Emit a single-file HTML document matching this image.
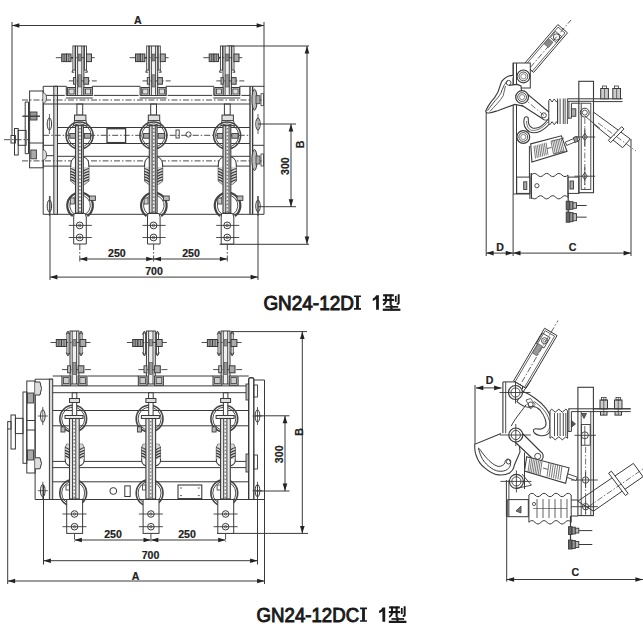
<!DOCTYPE html>
<html><head><meta charset="utf-8"><style>
html,body{margin:0;padding:0;background:#fff;width:643px;height:638px;overflow:hidden}
svg{display:block}
text{font-family:"Liberation Sans",sans-serif}
</style></head><body>
<svg width="643" height="638" viewBox="0 0 643 638">
<line x1="12.00" y1="22.00" x2="12.00" y2="135.50" stroke="#3a3a3a" stroke-width="1.0" />
<line x1="264.00" y1="22.00" x2="264.00" y2="87.00" stroke="#3a3a3a" stroke-width="1.0" />
<line x1="12.00" y1="25.50" x2="264.00" y2="25.50" stroke="#3a3a3a" stroke-width="1.0" />
<polygon points="12.00,25.50 19.40,23.20 19.40,27.80" fill="#222"/>
<polygon points="264.00,25.50 256.60,23.20 256.60,27.80" fill="#222"/>
<text x="137.9" y="24" font-size="10.6" font-weight="bold" text-anchor="middle" fill="#222" stroke="#222" stroke-width="0.2">A</text>
<line x1="227.00" y1="46.00" x2="309.00" y2="46.00" stroke="#3a3a3a" stroke-width="1.0" />
<line x1="219.60" y1="244.30" x2="309.00" y2="244.30" stroke="#3a3a3a" stroke-width="1.0" />
<line x1="307.00" y1="46.00" x2="307.00" y2="244.00" stroke="#3a3a3a" stroke-width="1.0" />
<polygon points="307.00,46.00 304.70,53.40 309.30,53.40" fill="#222"/>
<polygon points="307.00,244.00 304.70,236.60 309.30,236.60" fill="#222"/>
<text x="303.8" y="144.4" font-size="10.6" font-weight="bold" text-anchor="middle" fill="#222" stroke="#222" stroke-width="0.2" transform="rotate(-90 303.8 144.4)">B</text>
<line x1="258.00" y1="124.00" x2="296.00" y2="124.00" stroke="#3a3a3a" stroke-width="1.0" />
<line x1="258.00" y1="206.70" x2="296.00" y2="206.70" stroke="#3a3a3a" stroke-width="1.0" />
<line x1="291.00" y1="124.00" x2="291.00" y2="206.70" stroke="#3a3a3a" stroke-width="1.0" />
<polygon points="291.00,124.00 288.70,131.40 293.30,131.40" fill="#222"/>
<polygon points="291.00,206.70 288.70,199.30 293.30,199.30" fill="#222"/>
<text x="289.4" y="166.1" font-size="10.6" font-weight="bold" text-anchor="middle" fill="#222" stroke="#222" stroke-width="0.2" transform="rotate(-90 289.4 166.1)">300</text>
<line x1="79.80" y1="259.00" x2="153.60" y2="259.00" stroke="#3a3a3a" stroke-width="1.0" />
<polygon points="79.80,259.00 87.20,256.70 87.20,261.30" fill="#222"/>
<polygon points="153.60,259.00 146.20,256.70 146.20,261.30" fill="#222"/>
<text x="116.9" y="257.1" font-size="10.6" font-weight="bold" text-anchor="middle" fill="#222" stroke="#222" stroke-width="0.2">250</text>
<line x1="153.60" y1="259.00" x2="227.30" y2="259.00" stroke="#3a3a3a" stroke-width="1.0" />
<polygon points="153.60,259.00 161.00,256.70 161.00,261.30" fill="#222"/>
<polygon points="227.30,259.00 219.90,256.70 219.90,261.30" fill="#222"/>
<text x="191" y="257.1" font-size="10.6" font-weight="bold" text-anchor="middle" fill="#222" stroke="#222" stroke-width="0.2">250</text>
<line x1="79.80" y1="244.00" x2="79.80" y2="262.00" stroke="#3a3a3a" stroke-width="0.9" stroke-dasharray="6 2 1.5 2"/>
<line x1="153.60" y1="244.00" x2="153.60" y2="262.00" stroke="#3a3a3a" stroke-width="0.9" stroke-dasharray="6 2 1.5 2"/>
<line x1="227.30" y1="244.00" x2="227.30" y2="262.00" stroke="#3a3a3a" stroke-width="0.9" stroke-dasharray="6 2 1.5 2"/>
<line x1="50.00" y1="196.00" x2="50.00" y2="280.00" stroke="#3a3a3a" stroke-width="1.0" />
<line x1="258.00" y1="196.00" x2="258.00" y2="280.00" stroke="#3a3a3a" stroke-width="1.0" />
<line x1="50.00" y1="277.10" x2="258.00" y2="277.10" stroke="#3a3a3a" stroke-width="1.0" />
<polygon points="50.00,277.10 57.40,274.80 57.40,279.40" fill="#222"/>
<polygon points="258.00,277.10 250.60,274.80 250.60,279.40" fill="#222"/>
<text x="154" y="274.8" font-size="10.6" font-weight="bold" text-anchor="middle" fill="#222" stroke="#222" stroke-width="0.2">700</text>
<line x1="43.20" y1="86.30" x2="43.20" y2="214.30" stroke="#3a3a3a" stroke-width="1.0" />
<line x1="43.20" y1="214.30" x2="264.00" y2="214.30" stroke="#3a3a3a" stroke-width="1.0" />
<line x1="264.00" y1="86.50" x2="264.00" y2="214.30" stroke="#3a3a3a" stroke-width="1.0" />
<rect x="53.80" y="86.30" width="3.70" height="128.00" stroke="#3a3a3a" stroke-width="1.0" fill="#d8d8d8" />
<line x1="250.00" y1="86.50" x2="250.00" y2="214.30" stroke="#3a3a3a" stroke-width="1.4" />
<line x1="252.60" y1="86.50" x2="252.60" y2="214.30" stroke="#3a3a3a" stroke-width="1.4" />
<line x1="252.60" y1="145.30" x2="264.00" y2="145.30" stroke="#3a3a3a" stroke-width="1.0" />
<line x1="43.20" y1="86.30" x2="66.30" y2="86.30" stroke="#3a3a3a" stroke-width="1.0" />
<line x1="66.30" y1="86.30" x2="66.30" y2="95.50" stroke="#3a3a3a" stroke-width="1.0" />
<line x1="92.30" y1="86.30" x2="92.30" y2="95.50" stroke="#3a3a3a" stroke-width="1.0" />
<line x1="66.30" y1="95.50" x2="92.30" y2="95.50" stroke="#3a3a3a" stroke-width="1.0" />
<line x1="65.80" y1="98.00" x2="92.80" y2="98.00" stroke="#3a3a3a" stroke-width="1.0" />
<line x1="92.30" y1="86.30" x2="140.10" y2="86.30" stroke="#3a3a3a" stroke-width="1.0" />
<line x1="93.80" y1="95.40" x2="138.60" y2="95.40" stroke="#3a3a3a" stroke-width="1.0" />
<line x1="140.10" y1="86.30" x2="140.10" y2="95.50" stroke="#3a3a3a" stroke-width="1.0" />
<line x1="166.10" y1="86.30" x2="166.10" y2="95.50" stroke="#3a3a3a" stroke-width="1.0" />
<line x1="140.10" y1="95.50" x2="166.10" y2="95.50" stroke="#3a3a3a" stroke-width="1.0" />
<line x1="139.60" y1="98.00" x2="166.60" y2="98.00" stroke="#3a3a3a" stroke-width="1.0" />
<line x1="166.10" y1="86.30" x2="213.80" y2="86.30" stroke="#3a3a3a" stroke-width="1.0" />
<line x1="167.60" y1="95.40" x2="212.30" y2="95.40" stroke="#3a3a3a" stroke-width="1.0" />
<line x1="213.80" y1="86.30" x2="213.80" y2="95.50" stroke="#3a3a3a" stroke-width="1.0" />
<line x1="239.80" y1="86.30" x2="239.80" y2="95.50" stroke="#3a3a3a" stroke-width="1.0" />
<line x1="213.80" y1="95.50" x2="239.80" y2="95.50" stroke="#3a3a3a" stroke-width="1.0" />
<line x1="213.30" y1="98.00" x2="240.30" y2="98.00" stroke="#3a3a3a" stroke-width="1.0" />
<line x1="239.80" y1="86.30" x2="264.00" y2="86.30" stroke="#3a3a3a" stroke-width="1.0" />
<line x1="43.20" y1="95.40" x2="64.80" y2="95.40" stroke="#3a3a3a" stroke-width="1.0" />
<line x1="241.30" y1="95.40" x2="250.00" y2="95.40" stroke="#3a3a3a" stroke-width="1.0" />
<line x1="22.00" y1="100.00" x2="264.00" y2="100.00" stroke="#3a3a3a" stroke-width="0.9" stroke-dasharray="6 2 1.5 2"/>
<line x1="43.20" y1="104.00" x2="250.00" y2="104.00" stroke="#3a3a3a" stroke-width="1.0" />
<line x1="57.50" y1="127.50" x2="250.00" y2="127.50" stroke="#3a3a3a" stroke-width="1.0" />
<line x1="57.50" y1="143.50" x2="250.00" y2="143.50" stroke="#3a3a3a" stroke-width="1.0" />
<line x1="43.20" y1="135.30" x2="250.00" y2="135.30" stroke="#3a3a3a" stroke-width="0.9" stroke-dasharray="6 2 1.5 2"/>
<line x1="57.50" y1="156.30" x2="250.00" y2="156.30" stroke="#3a3a3a" stroke-width="1.0" />
<line x1="43.20" y1="166.10" x2="250.00" y2="166.10" stroke="#3a3a3a" stroke-width="1.0" />
<line x1="22.00" y1="160.90" x2="264.00" y2="160.90" stroke="#3a3a3a" stroke-width="0.9" stroke-dasharray="6 2 1.5 2"/>
<rect x="107.00" y="128.70" width="18.60" height="13.90" stroke="#3a3a3a" stroke-width="1.3" fill="none" />
<rect x="176.00" y="130.00" width="3.20" height="8.00" stroke="#3a3a3a" stroke-width="0.9" fill="none" />
<circle cx="188.50" cy="134.50" r="2.60" stroke="#3a3a3a" stroke-width="0.9" fill="none"/>
<rect x="29.60" y="91.00" width="13.60" height="76.80" stroke="#3a3a3a" stroke-width="1.0" fill="none" />
<line x1="25.20" y1="102.00" x2="25.20" y2="153.70" stroke="#3a3a3a" stroke-width="1.0" />
<line x1="28.50" y1="102.00" x2="28.50" y2="153.70" stroke="#3a3a3a" stroke-width="1.0" />
<line x1="25.20" y1="102.00" x2="28.50" y2="102.00" stroke="#3a3a3a" stroke-width="1.0" />
<line x1="25.20" y1="153.70" x2="28.50" y2="153.70" stroke="#3a3a3a" stroke-width="1.0" />
<rect x="14.50" y="128.50" width="3.70" height="26.50" stroke="#3a3a3a" stroke-width="1.0" fill="none" />
<rect x="18.20" y="130.40" width="7.90" height="14.90" stroke="#3a3a3a" stroke-width="1.0" fill="none" />
<rect x="11.00" y="135.50" width="4.40" height="7.50" stroke="#3a3a3a" stroke-width="1.0" fill="none" />
<line x1="4.00" y1="139.70" x2="30.00" y2="139.70" stroke="#3a3a3a" stroke-width="0.9" stroke-dasharray="6 2 1.5 2"/>
<line x1="28.50" y1="143.00" x2="43.20" y2="143.00" stroke="#3a3a3a" stroke-width="1.0" />
<line x1="43.20" y1="145.30" x2="53.80" y2="145.30" stroke="#3a3a3a" stroke-width="1.0" />
<line x1="43.20" y1="155.70" x2="53.80" y2="155.70" stroke="#3a3a3a" stroke-width="1.0" />
<rect x="30.00" y="112.00" width="7.00" height="8.00" stroke="#3a3a3a" stroke-width="0.9" fill="#999" />
<line x1="22.40" y1="116.20" x2="40.00" y2="116.20" stroke="#3a3a3a" stroke-width="1.4" />
<rect x="30.80" y="150.00" width="5.60" height="8.80" stroke="#3a3a3a" stroke-width="0.9" fill="#aaa" />
<path d="M43.2,93 Q46.5,93 46.5,98 Q46.5,103 43.2,103" stroke="#3a3a3a" stroke-width="0.8" fill="#ddd" />
<path d="M43.2,150 Q46.5,150 46.5,155 Q46.5,160 43.2,160" stroke="#3a3a3a" stroke-width="0.8" fill="#ddd" />
<ellipse cx="49.4" cy="124" rx="2.2" ry="6" stroke="#3a3a3a" stroke-width="1" fill="none"/>
<line x1="49.40" y1="114.00" x2="49.40" y2="134.00" stroke="#3a3a3a" stroke-width="0.8" />
<ellipse cx="49.4" cy="206" rx="2.2" ry="6" stroke="#3a3a3a" stroke-width="1" fill="none"/>
<line x1="49.40" y1="196.00" x2="49.40" y2="216.00" stroke="#3a3a3a" stroke-width="0.8" />
<ellipse cx="258" cy="124" rx="2.2" ry="6" stroke="#3a3a3a" stroke-width="1" fill="none"/>
<line x1="258.00" y1="114.00" x2="258.00" y2="134.00" stroke="#3a3a3a" stroke-width="0.8" />
<ellipse cx="258" cy="206" rx="2.2" ry="6" stroke="#3a3a3a" stroke-width="1" fill="none"/>
<line x1="258.00" y1="196.00" x2="258.00" y2="216.00" stroke="#3a3a3a" stroke-width="0.8" />
<ellipse cx="254.5" cy="99.7" rx="2.6" ry="10.5" stroke="#3a3a3a" stroke-width="1" fill="#bbb"/>
<rect x="256.00" y="95.70" width="4.00" height="8.00" stroke="#3a3a3a" stroke-width="0.8" fill="#aaa" />
<rect x="261.00" y="93.70" width="2.50" height="12.00" stroke="#3a3a3a" stroke-width="0.8" fill="none" />
<ellipse cx="254.5" cy="160" rx="2.6" ry="10.5" stroke="#3a3a3a" stroke-width="1" fill="#bbb"/>
<rect x="256.00" y="156.00" width="4.00" height="8.00" stroke="#3a3a3a" stroke-width="0.8" fill="#aaa" />
<rect x="261.00" y="154.00" width="2.50" height="12.00" stroke="#3a3a3a" stroke-width="0.8" fill="none" />
<rect x="72.90" y="46.00" width="2.10" height="24.00" stroke="#3a3a3a" stroke-width="0.9" fill="none" />
<rect x="84.40" y="46.00" width="2.10" height="24.00" stroke="#3a3a3a" stroke-width="0.9" fill="none" />
<path d="M72.89999999999999,70 l-1,2.2 l2.4,0" stroke="#3a3a3a" stroke-width="1.0" fill="none" />
<path d="M86.5,70 l1,2.2 l-2.4,0" stroke="#3a3a3a" stroke-width="1.0" fill="none" />
<rect x="75.50" y="46.00" width="8.40" height="49.50" stroke="#3a3a3a" stroke-width="1.0" fill="#f0f0f0" />
<line x1="77.60" y1="46.00" x2="77.60" y2="95.50" stroke="#3a3a3a" stroke-width="0.9" />
<line x1="81.80" y1="46.00" x2="81.80" y2="95.50" stroke="#3a3a3a" stroke-width="0.9" />
<line x1="55.80" y1="57.70" x2="94.80" y2="57.70" stroke="#3a3a3a" stroke-width="0.9" stroke-dasharray="6 2 1.5 2"/>
<rect x="61.70" y="54.00" width="4.80" height="7.60" stroke="#3a3a3a" stroke-width="1.0" fill="#999" />
<line x1="64.10" y1="54.00" x2="64.10" y2="61.60" stroke="#3a3a3a" stroke-width="0.7" />
<rect x="66.50" y="54.00" width="4.50" height="7.60" stroke="#3a3a3a" stroke-width="1.0" fill="#aaa" />
<line x1="68.80" y1="54.00" x2="68.80" y2="61.60" stroke="#3a3a3a" stroke-width="0.7" />
<line x1="71.00" y1="57.70" x2="72.90" y2="57.70" stroke="#3a3a3a" stroke-width="1.6" />
<rect x="86.50" y="54.00" width="5.00" height="7.60" stroke="#3a3a3a" stroke-width="1.0" fill="#aaa" />
<rect x="78.20" y="54.00" width="3.20" height="7.00" stroke="#3a3a3a" stroke-width="0.5" fill="#888" />
<line x1="68.80" y1="80.90" x2="96.80" y2="80.90" stroke="#3a3a3a" stroke-width="0.9" stroke-dasharray="6 2 1.5 2"/>
<rect x="73.50" y="77.60" width="2.30" height="6.60" stroke="#3a3a3a" stroke-width="0.9" fill="#bbb" />
<rect x="83.90" y="77.60" width="4.70" height="6.60" stroke="#3a3a3a" stroke-width="1.0" fill="#aaa" />
<rect x="78.20" y="74.80" width="3.20" height="12.20" stroke="#3a3a3a" stroke-width="0.5" fill="#999" />
<rect x="67.40" y="87.50" width="8.20" height="8.00" stroke="#3a3a3a" stroke-width="1.0" fill="#ddd" />
<rect x="68.90" y="89.00" width="5.20" height="5.00" stroke="#3a3a3a" stroke-width="0.8" fill="none" />
<rect x="83.90" y="87.50" width="8.20" height="8.00" stroke="#3a3a3a" stroke-width="1.0" fill="#ddd" />
<rect x="85.40" y="89.00" width="5.20" height="5.00" stroke="#3a3a3a" stroke-width="0.8" fill="none" />
<rect x="76.90" y="104.00" width="5.80" height="11.10" stroke="#3a3a3a" stroke-width="1.0" fill="none" />
<rect x="74.50" y="115.10" width="11.40" height="5.50" stroke="#3a3a3a" stroke-width="1.0" fill="#e0e0e0" />
<path d="M74.5,120.6 L73.3,125.7 L87.5,125.7 L85.89999999999999,120.6" stroke="#3a3a3a" stroke-width="0.9" fill="none" />
<circle cx="79.60" cy="135.50" r="13.50" stroke="#444" stroke-width="1.6" fill="none"/>
<circle cx="79.60" cy="135.50" r="11.60" stroke="#3a3a3a" stroke-width="0.9" fill="none"/>
<rect x="69.80" y="133.50" width="5.90" height="4.70" stroke="#3a3a3a" stroke-width="0.9" fill="#aaa" />
<rect x="84.30" y="133.50" width="6.30" height="4.70" stroke="#3a3a3a" stroke-width="0.9" fill="#aaa" />
<path d="M70.8,180.7 L70.8,164.4 C70.8,159 74.8,156.3 79.8,156.3 C84.8,156.3 88.8,159 88.8,164.4 L88.8,180.7 L85.0,184 L74.6,184 Z" stroke="#3a3a3a" stroke-width="1.1" fill="#fff" />
<path d="M70.8,167 L70.8,180.7 L74.6,184 L85.0,184 L88.8,180.7 L88.8,167 Z" fill="#d8d8d8" stroke="none"/>
<path d="M70.6,168.5 Q73.3,169.1 75.5,170.9" stroke="#333" stroke-width="1.2" fill="none" />
<path d="M89.0,168.5 Q86.3,169.1 83.3,170.9" stroke="#333" stroke-width="1.2" fill="none" />
<path d="M70.6,171.3 Q73.3,171.9 75.5,173.70000000000002" stroke="#333" stroke-width="1.2" fill="none" />
<path d="M89.0,171.3 Q86.3,171.9 83.3,173.70000000000002" stroke="#333" stroke-width="1.2" fill="none" />
<path d="M70.6,174.1 Q73.3,174.7 75.5,176.5" stroke="#333" stroke-width="1.2" fill="none" />
<path d="M89.0,174.1 Q86.3,174.7 83.3,176.5" stroke="#333" stroke-width="1.2" fill="none" />
<path d="M70.6,176.9 Q73.3,177.5 75.5,179.3" stroke="#333" stroke-width="1.2" fill="none" />
<path d="M89.0,176.9 Q86.3,177.5 83.3,179.3" stroke="#333" stroke-width="1.2" fill="none" />
<path d="M70.6,179.7 Q73.3,180.29999999999998 75.5,182.1" stroke="#333" stroke-width="1.2" fill="none" />
<path d="M89.0,179.7 Q86.3,180.29999999999998 83.3,182.1" stroke="#333" stroke-width="1.2" fill="none" />
<path d="M72.8,216 A12.8 12.8 0 1 1 87.3,216" stroke="#444" stroke-width="2.2" fill="none" />
<path d="M74.3,214 A10.3 10.3 0 1 1 85.8,214" stroke="#3a3a3a" stroke-width="0.9" fill="none" />
<rect x="89.60" y="196.00" width="5.80" height="4.40" stroke="#3a3a3a" stroke-width="0.9" fill="#bbb" />
<rect x="70.30" y="198.00" width="4.00" height="6.00" stroke="#3a3a3a" stroke-width="0.8" fill="#ccc" />
<rect x="75.50" y="125.70" width="7.80" height="87.30" stroke="#3a3a3a" stroke-width="1.1" fill="#d4d4d4" />
<rect x="78.30" y="125.70" width="3.20" height="87.30" stroke="#3a3a3a" stroke-width="1.0" fill="#f4f4f4" />
<rect x="79.10" y="128.00" width="1.60" height="1.40" stroke="#3a3a3a" stroke-width="0" fill="#777" />
<rect x="79.10" y="131.60" width="1.60" height="1.40" stroke="#3a3a3a" stroke-width="0" fill="#777" />
<rect x="79.10" y="135.20" width="1.60" height="1.40" stroke="#3a3a3a" stroke-width="0" fill="#777" />
<rect x="79.10" y="138.80" width="1.60" height="1.40" stroke="#3a3a3a" stroke-width="0" fill="#777" />
<rect x="79.10" y="142.40" width="1.60" height="1.40" stroke="#3a3a3a" stroke-width="0" fill="#777" />
<rect x="79.10" y="146.00" width="1.60" height="1.40" stroke="#3a3a3a" stroke-width="0" fill="#777" />
<rect x="79.10" y="149.60" width="1.60" height="1.40" stroke="#3a3a3a" stroke-width="0" fill="#777" />
<rect x="79.10" y="153.20" width="1.60" height="1.40" stroke="#3a3a3a" stroke-width="0" fill="#777" />
<rect x="79.10" y="156.80" width="1.60" height="1.40" stroke="#3a3a3a" stroke-width="0" fill="#777" />
<rect x="79.10" y="160.40" width="1.60" height="1.40" stroke="#3a3a3a" stroke-width="0" fill="#777" />
<rect x="79.10" y="164.00" width="1.60" height="1.40" stroke="#3a3a3a" stroke-width="0" fill="#777" />
<rect x="79.10" y="167.60" width="1.60" height="1.40" stroke="#3a3a3a" stroke-width="0" fill="#777" />
<rect x="79.10" y="171.20" width="1.60" height="1.40" stroke="#3a3a3a" stroke-width="0" fill="#777" />
<rect x="79.10" y="174.80" width="1.60" height="1.40" stroke="#3a3a3a" stroke-width="0" fill="#777" />
<rect x="79.10" y="178.40" width="1.60" height="1.40" stroke="#3a3a3a" stroke-width="0" fill="#777" />
<rect x="79.10" y="182.00" width="1.60" height="1.40" stroke="#3a3a3a" stroke-width="0" fill="#777" />
<rect x="79.10" y="185.60" width="1.60" height="1.40" stroke="#3a3a3a" stroke-width="0" fill="#777" />
<rect x="79.10" y="189.20" width="1.60" height="1.40" stroke="#3a3a3a" stroke-width="0" fill="#777" />
<rect x="79.10" y="192.80" width="1.60" height="1.40" stroke="#3a3a3a" stroke-width="0" fill="#777" />
<rect x="79.10" y="196.40" width="1.60" height="1.40" stroke="#3a3a3a" stroke-width="0" fill="#777" />
<rect x="79.10" y="200.00" width="1.60" height="1.40" stroke="#3a3a3a" stroke-width="0" fill="#777" />
<rect x="79.10" y="203.60" width="1.60" height="1.40" stroke="#3a3a3a" stroke-width="0" fill="#777" />
<rect x="79.10" y="207.20" width="1.60" height="1.40" stroke="#3a3a3a" stroke-width="0" fill="#777" />
<rect x="79.10" y="210.80" width="1.60" height="1.40" stroke="#3a3a3a" stroke-width="0" fill="#777" />
<path d="M74.2,213.5 L85.2,213.5 L86.3,217 L86.3,244 L73.7,244 L73.7,217 Z" stroke="#3a3a3a" stroke-width="1.0" fill="#fff" />
<circle cx="79.70" cy="225.40" r="3.40" stroke="#3a3a3a" stroke-width="1.0" fill="none"/>
<circle cx="79.70" cy="237.50" r="3.40" stroke="#3a3a3a" stroke-width="1.0" fill="none"/>
<circle cx="79.70" cy="225.40" r="1.30" stroke="#3a3a3a" stroke-width="0.7" fill="none"/>
<circle cx="79.70" cy="237.50" r="1.30" stroke="#3a3a3a" stroke-width="0.7" fill="none"/>
<line x1="68.70" y1="225.40" x2="91.80" y2="225.40" stroke="#3a3a3a" stroke-width="0.9" />
<line x1="68.70" y1="237.50" x2="91.80" y2="237.50" stroke="#3a3a3a" stroke-width="0.9" />
<rect x="146.70" y="46.00" width="2.10" height="24.00" stroke="#3a3a3a" stroke-width="0.9" fill="none" />
<rect x="158.20" y="46.00" width="2.10" height="24.00" stroke="#3a3a3a" stroke-width="0.9" fill="none" />
<path d="M146.7,70 l-1,2.2 l2.4,0" stroke="#3a3a3a" stroke-width="1.0" fill="none" />
<path d="M160.29999999999998,70 l1,2.2 l-2.4,0" stroke="#3a3a3a" stroke-width="1.0" fill="none" />
<rect x="149.30" y="46.00" width="8.40" height="49.50" stroke="#3a3a3a" stroke-width="1.0" fill="#f0f0f0" />
<line x1="151.40" y1="46.00" x2="151.40" y2="95.50" stroke="#3a3a3a" stroke-width="0.9" />
<line x1="155.60" y1="46.00" x2="155.60" y2="95.50" stroke="#3a3a3a" stroke-width="0.9" />
<line x1="129.60" y1="57.70" x2="168.60" y2="57.70" stroke="#3a3a3a" stroke-width="0.9" stroke-dasharray="6 2 1.5 2"/>
<rect x="135.50" y="54.00" width="4.80" height="7.60" stroke="#3a3a3a" stroke-width="1.0" fill="#999" />
<line x1="137.90" y1="54.00" x2="137.90" y2="61.60" stroke="#3a3a3a" stroke-width="0.7" />
<rect x="140.30" y="54.00" width="4.50" height="7.60" stroke="#3a3a3a" stroke-width="1.0" fill="#aaa" />
<line x1="142.60" y1="54.00" x2="142.60" y2="61.60" stroke="#3a3a3a" stroke-width="0.7" />
<line x1="144.80" y1="57.70" x2="146.70" y2="57.70" stroke="#3a3a3a" stroke-width="1.6" />
<rect x="160.30" y="54.00" width="5.00" height="7.60" stroke="#3a3a3a" stroke-width="1.0" fill="#aaa" />
<rect x="152.00" y="54.00" width="3.20" height="7.00" stroke="#3a3a3a" stroke-width="0.5" fill="#888" />
<line x1="142.60" y1="80.90" x2="170.60" y2="80.90" stroke="#3a3a3a" stroke-width="0.9" stroke-dasharray="6 2 1.5 2"/>
<rect x="147.30" y="77.60" width="2.30" height="6.60" stroke="#3a3a3a" stroke-width="0.9" fill="#bbb" />
<rect x="157.70" y="77.60" width="4.70" height="6.60" stroke="#3a3a3a" stroke-width="1.0" fill="#aaa" />
<rect x="152.00" y="74.80" width="3.20" height="12.20" stroke="#3a3a3a" stroke-width="0.5" fill="#999" />
<rect x="141.20" y="87.50" width="8.20" height="8.00" stroke="#3a3a3a" stroke-width="1.0" fill="#ddd" />
<rect x="142.70" y="89.00" width="5.20" height="5.00" stroke="#3a3a3a" stroke-width="0.8" fill="none" />
<rect x="157.70" y="87.50" width="8.20" height="8.00" stroke="#3a3a3a" stroke-width="1.0" fill="#ddd" />
<rect x="159.20" y="89.00" width="5.20" height="5.00" stroke="#3a3a3a" stroke-width="0.8" fill="none" />
<rect x="150.70" y="104.00" width="5.80" height="11.10" stroke="#3a3a3a" stroke-width="1.0" fill="none" />
<rect x="148.30" y="115.10" width="11.40" height="5.50" stroke="#3a3a3a" stroke-width="1.0" fill="#e0e0e0" />
<path d="M148.29999999999998,120.6 L147.1,125.7 L161.29999999999998,125.7 L159.7,120.6" stroke="#3a3a3a" stroke-width="0.9" fill="none" />
<circle cx="153.40" cy="135.50" r="13.50" stroke="#444" stroke-width="1.6" fill="none"/>
<circle cx="153.40" cy="135.50" r="11.60" stroke="#3a3a3a" stroke-width="0.9" fill="none"/>
<rect x="143.60" y="133.50" width="5.90" height="4.70" stroke="#3a3a3a" stroke-width="0.9" fill="#aaa" />
<rect x="158.10" y="133.50" width="6.30" height="4.70" stroke="#3a3a3a" stroke-width="0.9" fill="#aaa" />
<path d="M144.6,180.7 L144.6,164.4 C144.6,159 148.6,156.3 153.6,156.3 C158.6,156.3 162.6,159 162.6,164.4 L162.6,180.7 L158.79999999999998,184 L148.4,184 Z" stroke="#3a3a3a" stroke-width="1.1" fill="#fff" />
<path d="M144.6,167 L144.6,180.7 L148.4,184 L158.79999999999998,184 L162.6,180.7 L162.6,167 Z" fill="#d8d8d8" stroke="none"/>
<path d="M144.4,168.5 Q147.1,169.1 149.29999999999998,170.9" stroke="#333" stroke-width="1.2" fill="none" />
<path d="M162.79999999999998,168.5 Q160.1,169.1 157.1,170.9" stroke="#333" stroke-width="1.2" fill="none" />
<path d="M144.4,171.3 Q147.1,171.9 149.29999999999998,173.70000000000002" stroke="#333" stroke-width="1.2" fill="none" />
<path d="M162.79999999999998,171.3 Q160.1,171.9 157.1,173.70000000000002" stroke="#333" stroke-width="1.2" fill="none" />
<path d="M144.4,174.1 Q147.1,174.7 149.29999999999998,176.5" stroke="#333" stroke-width="1.2" fill="none" />
<path d="M162.79999999999998,174.1 Q160.1,174.7 157.1,176.5" stroke="#333" stroke-width="1.2" fill="none" />
<path d="M144.4,176.9 Q147.1,177.5 149.29999999999998,179.3" stroke="#333" stroke-width="1.2" fill="none" />
<path d="M162.79999999999998,176.9 Q160.1,177.5 157.1,179.3" stroke="#333" stroke-width="1.2" fill="none" />
<path d="M144.4,179.7 Q147.1,180.29999999999998 149.29999999999998,182.1" stroke="#333" stroke-width="1.2" fill="none" />
<path d="M162.79999999999998,179.7 Q160.1,180.29999999999998 157.1,182.1" stroke="#333" stroke-width="1.2" fill="none" />
<path d="M146.6,216 A12.8 12.8 0 1 1 161.1,216" stroke="#444" stroke-width="2.2" fill="none" />
<path d="M148.1,214 A10.3 10.3 0 1 1 159.6,214" stroke="#3a3a3a" stroke-width="0.9" fill="none" />
<rect x="163.40" y="196.00" width="5.80" height="4.40" stroke="#3a3a3a" stroke-width="0.9" fill="#bbb" />
<rect x="144.10" y="198.00" width="4.00" height="6.00" stroke="#3a3a3a" stroke-width="0.8" fill="#ccc" />
<rect x="149.30" y="125.70" width="7.80" height="87.30" stroke="#3a3a3a" stroke-width="1.1" fill="#d4d4d4" />
<rect x="152.10" y="125.70" width="3.20" height="87.30" stroke="#3a3a3a" stroke-width="1.0" fill="#f4f4f4" />
<rect x="152.90" y="128.00" width="1.60" height="1.40" stroke="#3a3a3a" stroke-width="0" fill="#777" />
<rect x="152.90" y="131.60" width="1.60" height="1.40" stroke="#3a3a3a" stroke-width="0" fill="#777" />
<rect x="152.90" y="135.20" width="1.60" height="1.40" stroke="#3a3a3a" stroke-width="0" fill="#777" />
<rect x="152.90" y="138.80" width="1.60" height="1.40" stroke="#3a3a3a" stroke-width="0" fill="#777" />
<rect x="152.90" y="142.40" width="1.60" height="1.40" stroke="#3a3a3a" stroke-width="0" fill="#777" />
<rect x="152.90" y="146.00" width="1.60" height="1.40" stroke="#3a3a3a" stroke-width="0" fill="#777" />
<rect x="152.90" y="149.60" width="1.60" height="1.40" stroke="#3a3a3a" stroke-width="0" fill="#777" />
<rect x="152.90" y="153.20" width="1.60" height="1.40" stroke="#3a3a3a" stroke-width="0" fill="#777" />
<rect x="152.90" y="156.80" width="1.60" height="1.40" stroke="#3a3a3a" stroke-width="0" fill="#777" />
<rect x="152.90" y="160.40" width="1.60" height="1.40" stroke="#3a3a3a" stroke-width="0" fill="#777" />
<rect x="152.90" y="164.00" width="1.60" height="1.40" stroke="#3a3a3a" stroke-width="0" fill="#777" />
<rect x="152.90" y="167.60" width="1.60" height="1.40" stroke="#3a3a3a" stroke-width="0" fill="#777" />
<rect x="152.90" y="171.20" width="1.60" height="1.40" stroke="#3a3a3a" stroke-width="0" fill="#777" />
<rect x="152.90" y="174.80" width="1.60" height="1.40" stroke="#3a3a3a" stroke-width="0" fill="#777" />
<rect x="152.90" y="178.40" width="1.60" height="1.40" stroke="#3a3a3a" stroke-width="0" fill="#777" />
<rect x="152.90" y="182.00" width="1.60" height="1.40" stroke="#3a3a3a" stroke-width="0" fill="#777" />
<rect x="152.90" y="185.60" width="1.60" height="1.40" stroke="#3a3a3a" stroke-width="0" fill="#777" />
<rect x="152.90" y="189.20" width="1.60" height="1.40" stroke="#3a3a3a" stroke-width="0" fill="#777" />
<rect x="152.90" y="192.80" width="1.60" height="1.40" stroke="#3a3a3a" stroke-width="0" fill="#777" />
<rect x="152.90" y="196.40" width="1.60" height="1.40" stroke="#3a3a3a" stroke-width="0" fill="#777" />
<rect x="152.90" y="200.00" width="1.60" height="1.40" stroke="#3a3a3a" stroke-width="0" fill="#777" />
<rect x="152.90" y="203.60" width="1.60" height="1.40" stroke="#3a3a3a" stroke-width="0" fill="#777" />
<rect x="152.90" y="207.20" width="1.60" height="1.40" stroke="#3a3a3a" stroke-width="0" fill="#777" />
<rect x="152.90" y="210.80" width="1.60" height="1.40" stroke="#3a3a3a" stroke-width="0" fill="#777" />
<path d="M148.0,213.5 L159.0,213.5 L160.1,217 L160.1,244 L147.5,244 L147.5,217 Z" stroke="#3a3a3a" stroke-width="1.0" fill="#fff" />
<circle cx="153.50" cy="225.40" r="3.40" stroke="#3a3a3a" stroke-width="1.0" fill="none"/>
<circle cx="153.50" cy="237.50" r="3.40" stroke="#3a3a3a" stroke-width="1.0" fill="none"/>
<circle cx="153.50" cy="225.40" r="1.30" stroke="#3a3a3a" stroke-width="0.7" fill="none"/>
<circle cx="153.50" cy="237.50" r="1.30" stroke="#3a3a3a" stroke-width="0.7" fill="none"/>
<line x1="142.50" y1="225.40" x2="165.60" y2="225.40" stroke="#3a3a3a" stroke-width="0.9" />
<line x1="142.50" y1="237.50" x2="165.60" y2="237.50" stroke="#3a3a3a" stroke-width="0.9" />
<rect x="220.40" y="46.00" width="2.10" height="24.00" stroke="#3a3a3a" stroke-width="0.9" fill="none" />
<rect x="231.90" y="46.00" width="2.10" height="24.00" stroke="#3a3a3a" stroke-width="0.9" fill="none" />
<path d="M220.4,70 l-1,2.2 l2.4,0" stroke="#3a3a3a" stroke-width="1.0" fill="none" />
<path d="M234.0,70 l1,2.2 l-2.4,0" stroke="#3a3a3a" stroke-width="1.0" fill="none" />
<rect x="223.00" y="46.00" width="8.40" height="49.50" stroke="#3a3a3a" stroke-width="1.0" fill="#f0f0f0" />
<line x1="225.10" y1="46.00" x2="225.10" y2="95.50" stroke="#3a3a3a" stroke-width="0.9" />
<line x1="229.30" y1="46.00" x2="229.30" y2="95.50" stroke="#3a3a3a" stroke-width="0.9" />
<line x1="203.30" y1="57.70" x2="242.30" y2="57.70" stroke="#3a3a3a" stroke-width="0.9" stroke-dasharray="6 2 1.5 2"/>
<rect x="209.20" y="54.00" width="4.80" height="7.60" stroke="#3a3a3a" stroke-width="1.0" fill="#999" />
<line x1="211.60" y1="54.00" x2="211.60" y2="61.60" stroke="#3a3a3a" stroke-width="0.7" />
<rect x="214.00" y="54.00" width="4.50" height="7.60" stroke="#3a3a3a" stroke-width="1.0" fill="#aaa" />
<line x1="216.30" y1="54.00" x2="216.30" y2="61.60" stroke="#3a3a3a" stroke-width="0.7" />
<line x1="218.50" y1="57.70" x2="220.40" y2="57.70" stroke="#3a3a3a" stroke-width="1.6" />
<rect x="234.00" y="54.00" width="5.00" height="7.60" stroke="#3a3a3a" stroke-width="1.0" fill="#aaa" />
<rect x="225.70" y="54.00" width="3.20" height="7.00" stroke="#3a3a3a" stroke-width="0.5" fill="#888" />
<line x1="216.30" y1="80.90" x2="244.30" y2="80.90" stroke="#3a3a3a" stroke-width="0.9" stroke-dasharray="6 2 1.5 2"/>
<rect x="221.00" y="77.60" width="2.30" height="6.60" stroke="#3a3a3a" stroke-width="0.9" fill="#bbb" />
<rect x="231.40" y="77.60" width="4.70" height="6.60" stroke="#3a3a3a" stroke-width="1.0" fill="#aaa" />
<rect x="225.70" y="74.80" width="3.20" height="12.20" stroke="#3a3a3a" stroke-width="0.5" fill="#999" />
<rect x="214.90" y="87.50" width="8.20" height="8.00" stroke="#3a3a3a" stroke-width="1.0" fill="#ddd" />
<rect x="216.40" y="89.00" width="5.20" height="5.00" stroke="#3a3a3a" stroke-width="0.8" fill="none" />
<rect x="231.40" y="87.50" width="8.20" height="8.00" stroke="#3a3a3a" stroke-width="1.0" fill="#ddd" />
<rect x="232.90" y="89.00" width="5.20" height="5.00" stroke="#3a3a3a" stroke-width="0.8" fill="none" />
<rect x="224.40" y="104.00" width="5.80" height="11.10" stroke="#3a3a3a" stroke-width="1.0" fill="none" />
<rect x="222.00" y="115.10" width="11.40" height="5.50" stroke="#3a3a3a" stroke-width="1.0" fill="#e0e0e0" />
<path d="M222.0,120.6 L220.8,125.7 L235.0,125.7 L233.4,120.6" stroke="#3a3a3a" stroke-width="0.9" fill="none" />
<circle cx="227.10" cy="135.50" r="13.50" stroke="#444" stroke-width="1.6" fill="none"/>
<circle cx="227.10" cy="135.50" r="11.60" stroke="#3a3a3a" stroke-width="0.9" fill="none"/>
<rect x="217.30" y="133.50" width="5.90" height="4.70" stroke="#3a3a3a" stroke-width="0.9" fill="#aaa" />
<rect x="231.80" y="133.50" width="6.30" height="4.70" stroke="#3a3a3a" stroke-width="0.9" fill="#aaa" />
<path d="M218.3,180.7 L218.3,164.4 C218.3,159 222.3,156.3 227.3,156.3 C232.3,156.3 236.3,159 236.3,164.4 L236.3,180.7 L232.5,184 L222.10000000000002,184 Z" stroke="#3a3a3a" stroke-width="1.1" fill="#fff" />
<path d="M218.3,167 L218.3,180.7 L222.10000000000002,184 L232.5,184 L236.3,180.7 L236.3,167 Z" fill="#d8d8d8" stroke="none"/>
<path d="M218.10000000000002,168.5 Q220.8,169.1 223.0,170.9" stroke="#333" stroke-width="1.2" fill="none" />
<path d="M236.5,168.5 Q233.8,169.1 230.8,170.9" stroke="#333" stroke-width="1.2" fill="none" />
<path d="M218.10000000000002,171.3 Q220.8,171.9 223.0,173.70000000000002" stroke="#333" stroke-width="1.2" fill="none" />
<path d="M236.5,171.3 Q233.8,171.9 230.8,173.70000000000002" stroke="#333" stroke-width="1.2" fill="none" />
<path d="M218.10000000000002,174.1 Q220.8,174.7 223.0,176.5" stroke="#333" stroke-width="1.2" fill="none" />
<path d="M236.5,174.1 Q233.8,174.7 230.8,176.5" stroke="#333" stroke-width="1.2" fill="none" />
<path d="M218.10000000000002,176.9 Q220.8,177.5 223.0,179.3" stroke="#333" stroke-width="1.2" fill="none" />
<path d="M236.5,176.9 Q233.8,177.5 230.8,179.3" stroke="#333" stroke-width="1.2" fill="none" />
<path d="M218.10000000000002,179.7 Q220.8,180.29999999999998 223.0,182.1" stroke="#333" stroke-width="1.2" fill="none" />
<path d="M236.5,179.7 Q233.8,180.29999999999998 230.8,182.1" stroke="#333" stroke-width="1.2" fill="none" />
<path d="M220.3,216 A12.8 12.8 0 1 1 234.8,216" stroke="#444" stroke-width="2.2" fill="none" />
<path d="M221.8,214 A10.3 10.3 0 1 1 233.3,214" stroke="#3a3a3a" stroke-width="0.9" fill="none" />
<rect x="237.10" y="196.00" width="5.80" height="4.40" stroke="#3a3a3a" stroke-width="0.9" fill="#bbb" />
<rect x="217.80" y="198.00" width="4.00" height="6.00" stroke="#3a3a3a" stroke-width="0.8" fill="#ccc" />
<rect x="223.00" y="125.70" width="7.80" height="87.30" stroke="#3a3a3a" stroke-width="1.1" fill="#d4d4d4" />
<rect x="225.80" y="125.70" width="3.20" height="87.30" stroke="#3a3a3a" stroke-width="1.0" fill="#f4f4f4" />
<rect x="226.60" y="128.00" width="1.60" height="1.40" stroke="#3a3a3a" stroke-width="0" fill="#777" />
<rect x="226.60" y="131.60" width="1.60" height="1.40" stroke="#3a3a3a" stroke-width="0" fill="#777" />
<rect x="226.60" y="135.20" width="1.60" height="1.40" stroke="#3a3a3a" stroke-width="0" fill="#777" />
<rect x="226.60" y="138.80" width="1.60" height="1.40" stroke="#3a3a3a" stroke-width="0" fill="#777" />
<rect x="226.60" y="142.40" width="1.60" height="1.40" stroke="#3a3a3a" stroke-width="0" fill="#777" />
<rect x="226.60" y="146.00" width="1.60" height="1.40" stroke="#3a3a3a" stroke-width="0" fill="#777" />
<rect x="226.60" y="149.60" width="1.60" height="1.40" stroke="#3a3a3a" stroke-width="0" fill="#777" />
<rect x="226.60" y="153.20" width="1.60" height="1.40" stroke="#3a3a3a" stroke-width="0" fill="#777" />
<rect x="226.60" y="156.80" width="1.60" height="1.40" stroke="#3a3a3a" stroke-width="0" fill="#777" />
<rect x="226.60" y="160.40" width="1.60" height="1.40" stroke="#3a3a3a" stroke-width="0" fill="#777" />
<rect x="226.60" y="164.00" width="1.60" height="1.40" stroke="#3a3a3a" stroke-width="0" fill="#777" />
<rect x="226.60" y="167.60" width="1.60" height="1.40" stroke="#3a3a3a" stroke-width="0" fill="#777" />
<rect x="226.60" y="171.20" width="1.60" height="1.40" stroke="#3a3a3a" stroke-width="0" fill="#777" />
<rect x="226.60" y="174.80" width="1.60" height="1.40" stroke="#3a3a3a" stroke-width="0" fill="#777" />
<rect x="226.60" y="178.40" width="1.60" height="1.40" stroke="#3a3a3a" stroke-width="0" fill="#777" />
<rect x="226.60" y="182.00" width="1.60" height="1.40" stroke="#3a3a3a" stroke-width="0" fill="#777" />
<rect x="226.60" y="185.60" width="1.60" height="1.40" stroke="#3a3a3a" stroke-width="0" fill="#777" />
<rect x="226.60" y="189.20" width="1.60" height="1.40" stroke="#3a3a3a" stroke-width="0" fill="#777" />
<rect x="226.60" y="192.80" width="1.60" height="1.40" stroke="#3a3a3a" stroke-width="0" fill="#777" />
<rect x="226.60" y="196.40" width="1.60" height="1.40" stroke="#3a3a3a" stroke-width="0" fill="#777" />
<rect x="226.60" y="200.00" width="1.60" height="1.40" stroke="#3a3a3a" stroke-width="0" fill="#777" />
<rect x="226.60" y="203.60" width="1.60" height="1.40" stroke="#3a3a3a" stroke-width="0" fill="#777" />
<rect x="226.60" y="207.20" width="1.60" height="1.40" stroke="#3a3a3a" stroke-width="0" fill="#777" />
<rect x="226.60" y="210.80" width="1.60" height="1.40" stroke="#3a3a3a" stroke-width="0" fill="#777" />
<path d="M221.70000000000002,213.5 L232.70000000000002,213.5 L233.8,217 L233.8,244 L221.20000000000002,244 L221.20000000000002,217 Z" stroke="#3a3a3a" stroke-width="1.0" fill="#fff" />
<circle cx="227.20" cy="225.40" r="3.40" stroke="#3a3a3a" stroke-width="1.0" fill="none"/>
<circle cx="227.20" cy="237.50" r="3.40" stroke="#3a3a3a" stroke-width="1.0" fill="none"/>
<circle cx="227.20" cy="225.40" r="1.30" stroke="#3a3a3a" stroke-width="0.7" fill="none"/>
<circle cx="227.20" cy="237.50" r="1.30" stroke="#3a3a3a" stroke-width="0.7" fill="none"/>
<line x1="216.20" y1="225.40" x2="239.30" y2="225.40" stroke="#3a3a3a" stroke-width="0.9" />
<line x1="216.20" y1="237.50" x2="239.30" y2="237.50" stroke="#3a3a3a" stroke-width="0.9" />
<line x1="7.70" y1="429.00" x2="7.70" y2="584.00" stroke="#3a3a3a" stroke-width="1.0" />
<line x1="264.50" y1="380.00" x2="264.50" y2="584.00" stroke="#3a3a3a" stroke-width="1.0" />
<line x1="7.70" y1="581.00" x2="264.50" y2="581.00" stroke="#3a3a3a" stroke-width="1.0" />
<polygon points="7.70,581.00 15.10,578.70 15.10,583.30" fill="#222"/>
<polygon points="264.50,581.00 257.10,578.70 257.10,583.30" fill="#222"/>
<text x="135.6" y="579.5" font-size="10.6" font-weight="bold" text-anchor="middle" fill="#222" stroke="#222" stroke-width="0.2">A</text>
<line x1="43.50" y1="485.00" x2="43.50" y2="564.50" stroke="#3a3a3a" stroke-width="1.0" />
<line x1="257.50" y1="485.00" x2="257.50" y2="564.50" stroke="#3a3a3a" stroke-width="1.0" />
<line x1="43.50" y1="560.70" x2="257.50" y2="560.70" stroke="#3a3a3a" stroke-width="1.0" />
<polygon points="43.50,560.70 50.90,558.40 50.90,563.00" fill="#222"/>
<polygon points="257.50,560.70 250.10,558.40 250.10,563.00" fill="#222"/>
<text x="150.5" y="558.5" font-size="10.6" font-weight="bold" text-anchor="middle" fill="#222" stroke="#222" stroke-width="0.2">700</text>
<line x1="74.50" y1="540.00" x2="150.90" y2="540.00" stroke="#3a3a3a" stroke-width="1.0" />
<polygon points="74.50,540.00 81.90,537.70 81.90,542.30" fill="#222"/>
<polygon points="150.90,540.00 143.50,537.70 143.50,542.30" fill="#222"/>
<text x="113" y="537.5" font-size="10.6" font-weight="bold" text-anchor="middle" fill="#222" stroke="#222" stroke-width="0.2">250</text>
<line x1="150.90" y1="540.00" x2="225.60" y2="540.00" stroke="#3a3a3a" stroke-width="1.0" />
<polygon points="150.90,540.00 158.30,537.70 158.30,542.30" fill="#222"/>
<polygon points="225.60,540.00 218.20,537.70 218.20,542.30" fill="#222"/>
<text x="187" y="537.5" font-size="10.6" font-weight="bold" text-anchor="middle" fill="#222" stroke="#222" stroke-width="0.2">250</text>
<line x1="74.50" y1="533.40" x2="74.50" y2="542.00" stroke="#3a3a3a" stroke-width="0.9" stroke-dasharray="6 2 1.5 2"/>
<line x1="150.90" y1="533.40" x2="150.90" y2="542.00" stroke="#3a3a3a" stroke-width="0.9" stroke-dasharray="6 2 1.5 2"/>
<line x1="225.60" y1="533.40" x2="225.60" y2="542.00" stroke="#3a3a3a" stroke-width="0.9" stroke-dasharray="6 2 1.5 2"/>
<line x1="230.80" y1="331.60" x2="307.00" y2="331.60" stroke="#3a3a3a" stroke-width="1.0" />
<line x1="217.00" y1="533.40" x2="308.00" y2="533.40" stroke="#3a3a3a" stroke-width="1.0" />
<line x1="302.30" y1="331.60" x2="302.30" y2="533.40" stroke="#3a3a3a" stroke-width="1.0" />
<polygon points="302.30,331.60 300.00,339.00 304.60,339.00" fill="#222"/>
<polygon points="302.30,533.40 300.00,526.00 304.60,526.00" fill="#222"/>
<text x="303" y="432" font-size="10.6" font-weight="bold" text-anchor="middle" fill="#222" stroke="#222" stroke-width="0.2" transform="rotate(-90 303 432)">B</text>
<line x1="256.00" y1="415.80" x2="289.50" y2="415.80" stroke="#3a3a3a" stroke-width="1.0" />
<line x1="256.00" y1="491.00" x2="289.50" y2="491.00" stroke="#3a3a3a" stroke-width="1.0" />
<line x1="285.00" y1="415.80" x2="285.00" y2="491.00" stroke="#3a3a3a" stroke-width="1.0" />
<polygon points="285.00,415.80 282.70,423.20 287.30,423.20" fill="#222"/>
<polygon points="285.00,491.00 282.70,483.60 287.30,483.60" fill="#222"/>
<text x="283.1" y="454.3" font-size="10.6" font-weight="bold" text-anchor="middle" fill="#222" stroke="#222" stroke-width="0.2" transform="rotate(-90 283.1 454.3)">300</text>
<line x1="35.10" y1="379.20" x2="35.10" y2="499.50" stroke="#3a3a3a" stroke-width="1.0" />
<line x1="35.10" y1="379.20" x2="52.70" y2="379.20" stroke="#3a3a3a" stroke-width="1.0" />
<rect x="49.40" y="379.20" width="3.30" height="120.30" stroke="#3a3a3a" stroke-width="1.0" fill="#d8d8d8" />
<line x1="35.10" y1="499.50" x2="264.50" y2="499.50" stroke="#3a3a3a" stroke-width="1.0" />
<path d="M248.7,499.5 L248.7,379.5 Q248.7,377.7 250.5,377.7 L252,377.7 Q253.8,377.7 253.8,379.5 L253.8,499.5" stroke="#3a3a3a" stroke-width="1.4" fill="none" />
<line x1="253.80" y1="380.00" x2="264.50" y2="380.00" stroke="#3a3a3a" stroke-width="1.0" />
<line x1="87.70" y1="376.00" x2="138.30" y2="376.00" stroke="#3a3a3a" stroke-width="1.0" />
<line x1="164.10" y1="376.00" x2="213.00" y2="376.00" stroke="#3a3a3a" stroke-width="1.0" />
<line x1="238.80" y1="376.00" x2="248.70" y2="376.00" stroke="#3a3a3a" stroke-width="1.0" />
<line x1="52.70" y1="376.00" x2="61.90" y2="376.00" stroke="#3a3a3a" stroke-width="1.0" />
<line x1="52.70" y1="385.90" x2="248.70" y2="385.90" stroke="#3a3a3a" stroke-width="1.0" />
<line x1="52.70" y1="392.70" x2="248.70" y2="392.70" stroke="#3a3a3a" stroke-width="1.0" />
<line x1="52.70" y1="410.50" x2="248.70" y2="410.50" stroke="#3a3a3a" stroke-width="1.0" />
<line x1="52.70" y1="425.80" x2="248.70" y2="425.80" stroke="#3a3a3a" stroke-width="1.0" />
<line x1="52.70" y1="461.40" x2="248.70" y2="461.40" stroke="#3a3a3a" stroke-width="1.0" />
<line x1="52.70" y1="467.60" x2="248.70" y2="467.60" stroke="#3a3a3a" stroke-width="1.0" />
<line x1="52.70" y1="481.80" x2="248.70" y2="481.80" stroke="#3a3a3a" stroke-width="1.0" />
<rect x="26.80" y="381.00" width="8.30" height="92.00" stroke="#3a3a3a" stroke-width="1.0" fill="none" />
<rect x="23.00" y="392.00" width="3.80" height="71.30" stroke="#3a3a3a" stroke-width="1.0" fill="none" />
<line x1="26.80" y1="420.50" x2="35.10" y2="420.50" stroke="#3a3a3a" stroke-width="1.0" />
<line x1="26.80" y1="430.00" x2="35.10" y2="430.00" stroke="#3a3a3a" stroke-width="1.0" />
<rect x="11.00" y="415.00" width="4.40" height="34.00" stroke="#3a3a3a" stroke-width="1.0" fill="none" />
<rect x="15.40" y="418.30" width="7.60" height="15.30" stroke="#3a3a3a" stroke-width="1.0" fill="none" />
<rect x="7.70" y="421.60" width="3.30" height="7.40" stroke="#3a3a3a" stroke-width="1.0" fill="none" />
<path d="M35.1,382 L40,382 Q43,388.5 40,395 L35.1,395" stroke="#3a3a3a" stroke-width="1.0" fill="#ddd" />
<path d="M35.1,457.8 L40,457.8 Q43,463.3 40,468.8 L35.1,468.8" stroke="#3a3a3a" stroke-width="1.0" fill="#ddd" />
<rect x="27.50" y="393.00" width="6.00" height="10.00" stroke="#3a3a3a" stroke-width="0.9" fill="#aaa" />
<rect x="27.50" y="450.00" width="6.00" height="10.00" stroke="#3a3a3a" stroke-width="0.9" fill="#aaa" />
<ellipse cx="42.8" cy="416" rx="2.3" ry="6.2" stroke="#3a3a3a" stroke-width="1" fill="none"/>
<line x1="37.80" y1="416.00" x2="47.80" y2="416.00" stroke="#3a3a3a" stroke-width="0.8" />
<line x1="42.80" y1="407.00" x2="42.80" y2="425.00" stroke="#3a3a3a" stroke-width="0.8" />
<ellipse cx="42.8" cy="490.7" rx="2.3" ry="6.2" stroke="#3a3a3a" stroke-width="1" fill="none"/>
<line x1="37.80" y1="490.70" x2="47.80" y2="490.70" stroke="#3a3a3a" stroke-width="0.8" />
<line x1="42.80" y1="481.70" x2="42.80" y2="499.70" stroke="#3a3a3a" stroke-width="0.8" />
<ellipse cx="257.5" cy="416" rx="2.3" ry="6.2" stroke="#3a3a3a" stroke-width="1" fill="none"/>
<line x1="252.50" y1="416.00" x2="262.50" y2="416.00" stroke="#3a3a3a" stroke-width="0.8" />
<line x1="257.50" y1="407.00" x2="257.50" y2="425.00" stroke="#3a3a3a" stroke-width="0.8" />
<ellipse cx="257.5" cy="490.7" rx="2.3" ry="6.2" stroke="#3a3a3a" stroke-width="1" fill="none"/>
<line x1="252.50" y1="490.70" x2="262.50" y2="490.70" stroke="#3a3a3a" stroke-width="0.8" />
<line x1="257.50" y1="481.70" x2="257.50" y2="499.70" stroke="#3a3a3a" stroke-width="0.8" />
<rect x="246.00" y="384.00" width="2.70" height="16.00" stroke="#3a3a3a" stroke-width="0.9" fill="#bbb" />
<rect x="253.80" y="385.00" width="3.70" height="12.00" stroke="#3a3a3a" stroke-width="0.9" fill="none" />
<rect x="246.00" y="454.00" width="2.70" height="18.00" stroke="#3a3a3a" stroke-width="0.9" fill="#bbb" />
<rect x="253.80" y="455.00" width="3.70" height="14.00" stroke="#3a3a3a" stroke-width="0.9" fill="none" />
<circle cx="113.30" cy="491.00" r="3.40" stroke="#3a3a3a" stroke-width="1.0" fill="none"/>
<rect x="124.80" y="485.90" width="5.40" height="10.60" stroke="#3a3a3a" stroke-width="1.0" fill="none" />
<rect x="178.00" y="485.00" width="23.80" height="13.60" stroke="#3a3a3a" stroke-width="1.1" fill="none" />
<line x1="180.00" y1="488.00" x2="182.00" y2="488.00" stroke="#3a3a3a" stroke-width="0.8" />
<line x1="197.80" y1="488.00" x2="199.80" y2="488.00" stroke="#3a3a3a" stroke-width="0.8" />
<line x1="180.00" y1="495.60" x2="182.00" y2="495.60" stroke="#3a3a3a" stroke-width="0.8" />
<line x1="197.80" y1="495.60" x2="199.80" y2="495.60" stroke="#3a3a3a" stroke-width="0.8" />
<rect x="66.90" y="333.00" width="2.10" height="21.00" stroke="#3a3a3a" stroke-width="0.9" fill="none" />
<path d="M66.10000000000001,334.5 L67.95,331 L69.80000000000001,334.5" stroke="#3a3a3a" stroke-width="0.9" fill="none" />
<path d="M66.10000000000001,352.5 L67.95,356 L69.80000000000001,352.5" stroke="#3a3a3a" stroke-width="0.9" fill="none" />
<rect x="80.00" y="333.00" width="2.10" height="21.00" stroke="#3a3a3a" stroke-width="0.9" fill="none" />
<path d="M79.2,334.5 L81.05,331 L82.9,334.5" stroke="#3a3a3a" stroke-width="0.9" fill="none" />
<path d="M79.2,352.5 L81.05,356 L82.9,352.5" stroke="#3a3a3a" stroke-width="0.9" fill="none" />
<rect x="70.00" y="331.00" width="8.90" height="53.00" stroke="#3a3a3a" stroke-width="1.0" fill="#f0f0f0" />
<line x1="72.20" y1="331.00" x2="72.20" y2="384.00" stroke="#3a3a3a" stroke-width="0.9" />
<line x1="76.60" y1="331.00" x2="76.60" y2="384.00" stroke="#3a3a3a" stroke-width="0.9" />
<line x1="50.50" y1="342.50" x2="90.50" y2="342.50" stroke="#3a3a3a" stroke-width="0.9" stroke-dasharray="6 2 1.5 2"/>
<rect x="56.30" y="339.50" width="5.20" height="7.00" stroke="#3a3a3a" stroke-width="1.0" fill="#999" />
<line x1="58.90" y1="339.50" x2="58.90" y2="346.50" stroke="#3a3a3a" stroke-width="0.7" />
<rect x="61.50" y="339.50" width="5.00" height="7.00" stroke="#3a3a3a" stroke-width="1.0" fill="#aaa" />
<line x1="64.00" y1="339.50" x2="64.00" y2="346.50" stroke="#3a3a3a" stroke-width="0.7" />
<line x1="66.50" y1="342.50" x2="66.90" y2="342.50" stroke="#3a3a3a" stroke-width="1.6" />
<rect x="80.00" y="339.50" width="5.80" height="7.00" stroke="#3a3a3a" stroke-width="1.0" fill="#aaa" />
<rect x="72.90" y="339.50" width="3.20" height="6.50" stroke="#3a3a3a" stroke-width="0.5" fill="#999" />
<line x1="62.00" y1="369.60" x2="92.00" y2="369.60" stroke="#3a3a3a" stroke-width="0.9" stroke-dasharray="6 2 1.5 2"/>
<rect x="67.60" y="365.80" width="2.90" height="7.00" stroke="#3a3a3a" stroke-width="0.9" fill="#bbb" />
<rect x="78.20" y="365.80" width="5.70" height="7.00" stroke="#3a3a3a" stroke-width="1.0" fill="#aaa" />
<rect x="72.90" y="362.50" width="3.20" height="12.00" stroke="#3a3a3a" stroke-width="0.5" fill="#999" />
<rect x="61.90" y="376.00" width="8.80" height="9.30" stroke="#3a3a3a" stroke-width="1.0" fill="#ccc" />
<rect x="63.50" y="377.60" width="5.60" height="6.00" stroke="#3a3a3a" stroke-width="0.8" fill="none" />
<rect x="78.20" y="376.00" width="8.80" height="9.30" stroke="#3a3a3a" stroke-width="1.0" fill="#ccc" />
<rect x="79.80" y="377.60" width="5.60" height="6.00" stroke="#3a3a3a" stroke-width="0.8" fill="none" />
<rect x="72.20" y="392.70" width="4.60" height="6.60" stroke="#3a3a3a" stroke-width="1.0" fill="none" />
<rect x="69.50" y="398.50" width="10.00" height="4.00" stroke="#3a3a3a" stroke-width="1.0" fill="#ddd" />
<circle cx="73.20" cy="418.70" r="13.40" stroke="#444" stroke-width="1.6" fill="none"/>
<circle cx="73.20" cy="418.70" r="11.50" stroke="#3a3a3a" stroke-width="0.9" fill="none"/>
<rect x="61.00" y="426.80" width="4.00" height="5.20" stroke="#3a3a3a" stroke-width="0.9" fill="#bbb" />
<path d="M65.3,447.6 L67.0,444.2 L82.4,444.2 L84.1,447.6 L84.1,461 C84.1,464 80.5,466.7 74.7,466.7 C68.5,466.7 65.3,464 65.3,461 Z" stroke="#3a3a3a" stroke-width="1.1" fill="#fff" />
<path d="M65.3,447.6 L67.0,444.2 L82.4,444.2 L84.1,447.6 L84.1,459 L65.3,459 Z" fill="#d8d8d8" stroke="none"/>
<path d="M65.1,447.5 Q67.5,448.0 69.7,449.9" stroke="#333" stroke-width="1.2" fill="none" />
<path d="M84.3,447.5 Q81.9,448.0 79.3,449.9" stroke="#333" stroke-width="1.2" fill="none" />
<path d="M65.1,450.3 Q67.5,450.8 69.7,452.7" stroke="#333" stroke-width="1.2" fill="none" />
<path d="M84.3,450.3 Q81.9,450.8 79.3,452.7" stroke="#333" stroke-width="1.2" fill="none" />
<path d="M65.1,453.1 Q67.5,453.6 69.7,455.5" stroke="#333" stroke-width="1.2" fill="none" />
<path d="M84.3,453.1 Q81.9,453.6 79.3,455.5" stroke="#333" stroke-width="1.2" fill="none" />
<path d="M65.1,455.9 Q67.5,456.4 69.7,458.29999999999995" stroke="#333" stroke-width="1.2" fill="none" />
<path d="M84.3,455.9 Q81.9,456.4 79.3,458.29999999999995" stroke="#333" stroke-width="1.2" fill="none" />
<circle cx="73.20" cy="493.00" r="13.40" stroke="#444" stroke-width="1.6" fill="none"/>
<circle cx="73.20" cy="493.00" r="11.50" stroke="#3a3a3a" stroke-width="0.9" fill="none"/>
<rect x="66.00" y="485.00" width="3.50" height="5.00" stroke="#3a3a3a" stroke-width="0.8" fill="none" />
<rect x="72.30" y="402.50" width="4.40" height="14.00" stroke="#3a3a3a" stroke-width="1.0" fill="#fff" />
<rect x="65.00" y="415.50" width="18.00" height="3.00" stroke="#3a3a3a" stroke-width="1.0" fill="#eee" />
<rect x="69.50" y="418.50" width="9.70" height="80.50" stroke="#3a3a3a" stroke-width="1.1" fill="#e8e8e8" />
<rect x="72.60" y="418.50" width="3.20" height="80.50" stroke="#3a3a3a" stroke-width="1.0" fill="#f8f8f8" />
<rect x="73.40" y="421.00" width="1.60" height="1.40" stroke="#3a3a3a" stroke-width="0" fill="#888" />
<rect x="73.40" y="424.60" width="1.60" height="1.40" stroke="#3a3a3a" stroke-width="0" fill="#888" />
<rect x="73.40" y="428.20" width="1.60" height="1.40" stroke="#3a3a3a" stroke-width="0" fill="#888" />
<rect x="73.40" y="431.80" width="1.60" height="1.40" stroke="#3a3a3a" stroke-width="0" fill="#888" />
<rect x="73.40" y="435.40" width="1.60" height="1.40" stroke="#3a3a3a" stroke-width="0" fill="#888" />
<rect x="73.40" y="439.00" width="1.60" height="1.40" stroke="#3a3a3a" stroke-width="0" fill="#888" />
<rect x="73.40" y="442.60" width="1.60" height="1.40" stroke="#3a3a3a" stroke-width="0" fill="#888" />
<rect x="73.40" y="446.20" width="1.60" height="1.40" stroke="#3a3a3a" stroke-width="0" fill="#888" />
<rect x="73.40" y="449.80" width="1.60" height="1.40" stroke="#3a3a3a" stroke-width="0" fill="#888" />
<rect x="73.40" y="453.40" width="1.60" height="1.40" stroke="#3a3a3a" stroke-width="0" fill="#888" />
<rect x="73.40" y="457.00" width="1.60" height="1.40" stroke="#3a3a3a" stroke-width="0" fill="#888" />
<rect x="73.40" y="460.60" width="1.60" height="1.40" stroke="#3a3a3a" stroke-width="0" fill="#888" />
<rect x="73.40" y="464.20" width="1.60" height="1.40" stroke="#3a3a3a" stroke-width="0" fill="#888" />
<rect x="73.40" y="467.80" width="1.60" height="1.40" stroke="#3a3a3a" stroke-width="0" fill="#888" />
<rect x="73.40" y="471.40" width="1.60" height="1.40" stroke="#3a3a3a" stroke-width="0" fill="#888" />
<rect x="73.40" y="475.00" width="1.60" height="1.40" stroke="#3a3a3a" stroke-width="0" fill="#888" />
<rect x="73.40" y="478.60" width="1.60" height="1.40" stroke="#3a3a3a" stroke-width="0" fill="#888" />
<rect x="73.40" y="482.20" width="1.60" height="1.40" stroke="#3a3a3a" stroke-width="0" fill="#888" />
<rect x="73.40" y="485.80" width="1.60" height="1.40" stroke="#3a3a3a" stroke-width="0" fill="#888" />
<rect x="73.40" y="489.40" width="1.60" height="1.40" stroke="#3a3a3a" stroke-width="0" fill="#888" />
<rect x="73.40" y="493.00" width="1.60" height="1.40" stroke="#3a3a3a" stroke-width="0" fill="#888" />
<rect x="73.40" y="496.60" width="1.60" height="1.40" stroke="#3a3a3a" stroke-width="0" fill="#888" />
<rect x="66.70" y="499.50" width="15.90" height="33.90" stroke="#3a3a3a" stroke-width="1.0" fill="#fff" />
<circle cx="74.50" cy="514.00" r="3.30" stroke="#3a3a3a" stroke-width="1.0" fill="none"/>
<circle cx="74.50" cy="526.70" r="3.30" stroke="#3a3a3a" stroke-width="1.0" fill="none"/>
<circle cx="74.50" cy="514.00" r="1.20" stroke="#3a3a3a" stroke-width="0.7" fill="none"/>
<circle cx="74.50" cy="526.70" r="1.20" stroke="#3a3a3a" stroke-width="0.7" fill="none"/>
<line x1="62.50" y1="514.00" x2="86.50" y2="514.00" stroke="#3a3a3a" stroke-width="0.9" />
<line x1="62.50" y1="526.70" x2="86.50" y2="526.70" stroke="#3a3a3a" stroke-width="0.9" />
<rect x="143.30" y="333.00" width="2.10" height="21.00" stroke="#3a3a3a" stroke-width="0.9" fill="none" />
<path d="M142.5,334.5 L144.35000000000002,331 L146.20000000000002,334.5" stroke="#3a3a3a" stroke-width="0.9" fill="none" />
<path d="M142.5,352.5 L144.35000000000002,356 L146.20000000000002,352.5" stroke="#3a3a3a" stroke-width="0.9" fill="none" />
<rect x="156.40" y="333.00" width="2.10" height="21.00" stroke="#3a3a3a" stroke-width="0.9" fill="none" />
<path d="M155.6,334.5 L157.45000000000002,331 L159.3,334.5" stroke="#3a3a3a" stroke-width="0.9" fill="none" />
<path d="M155.6,352.5 L157.45000000000002,356 L159.3,352.5" stroke="#3a3a3a" stroke-width="0.9" fill="none" />
<rect x="146.40" y="331.00" width="8.90" height="53.00" stroke="#3a3a3a" stroke-width="1.0" fill="#f0f0f0" />
<line x1="148.60" y1="331.00" x2="148.60" y2="384.00" stroke="#3a3a3a" stroke-width="0.9" />
<line x1="153.00" y1="331.00" x2="153.00" y2="384.00" stroke="#3a3a3a" stroke-width="0.9" />
<line x1="126.90" y1="342.50" x2="166.90" y2="342.50" stroke="#3a3a3a" stroke-width="0.9" stroke-dasharray="6 2 1.5 2"/>
<rect x="132.70" y="339.50" width="5.20" height="7.00" stroke="#3a3a3a" stroke-width="1.0" fill="#999" />
<line x1="135.30" y1="339.50" x2="135.30" y2="346.50" stroke="#3a3a3a" stroke-width="0.7" />
<rect x="137.90" y="339.50" width="5.00" height="7.00" stroke="#3a3a3a" stroke-width="1.0" fill="#aaa" />
<line x1="140.40" y1="339.50" x2="140.40" y2="346.50" stroke="#3a3a3a" stroke-width="0.7" />
<line x1="142.90" y1="342.50" x2="143.30" y2="342.50" stroke="#3a3a3a" stroke-width="1.6" />
<rect x="156.40" y="339.50" width="5.80" height="7.00" stroke="#3a3a3a" stroke-width="1.0" fill="#aaa" />
<rect x="149.30" y="339.50" width="3.20" height="6.50" stroke="#3a3a3a" stroke-width="0.5" fill="#999" />
<line x1="138.40" y1="369.60" x2="168.40" y2="369.60" stroke="#3a3a3a" stroke-width="0.9" stroke-dasharray="6 2 1.5 2"/>
<rect x="144.00" y="365.80" width="2.90" height="7.00" stroke="#3a3a3a" stroke-width="0.9" fill="#bbb" />
<rect x="154.60" y="365.80" width="5.70" height="7.00" stroke="#3a3a3a" stroke-width="1.0" fill="#aaa" />
<rect x="149.30" y="362.50" width="3.20" height="12.00" stroke="#3a3a3a" stroke-width="0.5" fill="#999" />
<rect x="138.30" y="376.00" width="8.80" height="9.30" stroke="#3a3a3a" stroke-width="1.0" fill="#ccc" />
<rect x="139.90" y="377.60" width="5.60" height="6.00" stroke="#3a3a3a" stroke-width="0.8" fill="none" />
<rect x="154.60" y="376.00" width="8.80" height="9.30" stroke="#3a3a3a" stroke-width="1.0" fill="#ccc" />
<rect x="156.20" y="377.60" width="5.60" height="6.00" stroke="#3a3a3a" stroke-width="0.8" fill="none" />
<rect x="148.60" y="392.70" width="4.60" height="6.60" stroke="#3a3a3a" stroke-width="1.0" fill="none" />
<rect x="145.90" y="398.50" width="10.00" height="4.00" stroke="#3a3a3a" stroke-width="1.0" fill="#ddd" />
<circle cx="149.60" cy="418.70" r="13.40" stroke="#444" stroke-width="1.6" fill="none"/>
<circle cx="149.60" cy="418.70" r="11.50" stroke="#3a3a3a" stroke-width="0.9" fill="none"/>
<rect x="137.40" y="426.80" width="4.00" height="5.20" stroke="#3a3a3a" stroke-width="0.9" fill="#bbb" />
<path d="M141.70000000000002,447.6 L143.4,444.2 L158.8,444.2 L160.5,447.6 L160.5,461 C160.5,464 156.9,466.7 151.1,466.7 C144.9,466.7 141.70000000000002,464 141.70000000000002,461 Z" stroke="#3a3a3a" stroke-width="1.1" fill="#fff" />
<path d="M141.70000000000002,447.6 L143.4,444.2 L158.8,444.2 L160.5,447.6 L160.5,459 L141.70000000000002,459 Z" fill="#d8d8d8" stroke="none"/>
<path d="M141.5,447.5 Q143.9,448.0 146.1,449.9" stroke="#333" stroke-width="1.2" fill="none" />
<path d="M160.70000000000002,447.5 Q158.3,448.0 155.70000000000002,449.9" stroke="#333" stroke-width="1.2" fill="none" />
<path d="M141.5,450.3 Q143.9,450.8 146.1,452.7" stroke="#333" stroke-width="1.2" fill="none" />
<path d="M160.70000000000002,450.3 Q158.3,450.8 155.70000000000002,452.7" stroke="#333" stroke-width="1.2" fill="none" />
<path d="M141.5,453.1 Q143.9,453.6 146.1,455.5" stroke="#333" stroke-width="1.2" fill="none" />
<path d="M160.70000000000002,453.1 Q158.3,453.6 155.70000000000002,455.5" stroke="#333" stroke-width="1.2" fill="none" />
<path d="M141.5,455.9 Q143.9,456.4 146.1,458.29999999999995" stroke="#333" stroke-width="1.2" fill="none" />
<path d="M160.70000000000002,455.9 Q158.3,456.4 155.70000000000002,458.29999999999995" stroke="#333" stroke-width="1.2" fill="none" />
<circle cx="149.60" cy="493.00" r="13.40" stroke="#444" stroke-width="1.6" fill="none"/>
<circle cx="149.60" cy="493.00" r="11.50" stroke="#3a3a3a" stroke-width="0.9" fill="none"/>
<rect x="142.40" y="485.00" width="3.50" height="5.00" stroke="#3a3a3a" stroke-width="0.8" fill="none" />
<rect x="148.70" y="402.50" width="4.40" height="14.00" stroke="#3a3a3a" stroke-width="1.0" fill="#fff" />
<rect x="141.40" y="415.50" width="18.00" height="3.00" stroke="#3a3a3a" stroke-width="1.0" fill="#eee" />
<rect x="145.90" y="418.50" width="9.70" height="80.50" stroke="#3a3a3a" stroke-width="1.1" fill="#e8e8e8" />
<rect x="149.00" y="418.50" width="3.20" height="80.50" stroke="#3a3a3a" stroke-width="1.0" fill="#f8f8f8" />
<rect x="149.80" y="421.00" width="1.60" height="1.40" stroke="#3a3a3a" stroke-width="0" fill="#888" />
<rect x="149.80" y="424.60" width="1.60" height="1.40" stroke="#3a3a3a" stroke-width="0" fill="#888" />
<rect x="149.80" y="428.20" width="1.60" height="1.40" stroke="#3a3a3a" stroke-width="0" fill="#888" />
<rect x="149.80" y="431.80" width="1.60" height="1.40" stroke="#3a3a3a" stroke-width="0" fill="#888" />
<rect x="149.80" y="435.40" width="1.60" height="1.40" stroke="#3a3a3a" stroke-width="0" fill="#888" />
<rect x="149.80" y="439.00" width="1.60" height="1.40" stroke="#3a3a3a" stroke-width="0" fill="#888" />
<rect x="149.80" y="442.60" width="1.60" height="1.40" stroke="#3a3a3a" stroke-width="0" fill="#888" />
<rect x="149.80" y="446.20" width="1.60" height="1.40" stroke="#3a3a3a" stroke-width="0" fill="#888" />
<rect x="149.80" y="449.80" width="1.60" height="1.40" stroke="#3a3a3a" stroke-width="0" fill="#888" />
<rect x="149.80" y="453.40" width="1.60" height="1.40" stroke="#3a3a3a" stroke-width="0" fill="#888" />
<rect x="149.80" y="457.00" width="1.60" height="1.40" stroke="#3a3a3a" stroke-width="0" fill="#888" />
<rect x="149.80" y="460.60" width="1.60" height="1.40" stroke="#3a3a3a" stroke-width="0" fill="#888" />
<rect x="149.80" y="464.20" width="1.60" height="1.40" stroke="#3a3a3a" stroke-width="0" fill="#888" />
<rect x="149.80" y="467.80" width="1.60" height="1.40" stroke="#3a3a3a" stroke-width="0" fill="#888" />
<rect x="149.80" y="471.40" width="1.60" height="1.40" stroke="#3a3a3a" stroke-width="0" fill="#888" />
<rect x="149.80" y="475.00" width="1.60" height="1.40" stroke="#3a3a3a" stroke-width="0" fill="#888" />
<rect x="149.80" y="478.60" width="1.60" height="1.40" stroke="#3a3a3a" stroke-width="0" fill="#888" />
<rect x="149.80" y="482.20" width="1.60" height="1.40" stroke="#3a3a3a" stroke-width="0" fill="#888" />
<rect x="149.80" y="485.80" width="1.60" height="1.40" stroke="#3a3a3a" stroke-width="0" fill="#888" />
<rect x="149.80" y="489.40" width="1.60" height="1.40" stroke="#3a3a3a" stroke-width="0" fill="#888" />
<rect x="149.80" y="493.00" width="1.60" height="1.40" stroke="#3a3a3a" stroke-width="0" fill="#888" />
<rect x="149.80" y="496.60" width="1.60" height="1.40" stroke="#3a3a3a" stroke-width="0" fill="#888" />
<rect x="143.10" y="499.50" width="15.90" height="33.90" stroke="#3a3a3a" stroke-width="1.0" fill="#fff" />
<circle cx="150.90" cy="514.00" r="3.30" stroke="#3a3a3a" stroke-width="1.0" fill="none"/>
<circle cx="150.90" cy="526.70" r="3.30" stroke="#3a3a3a" stroke-width="1.0" fill="none"/>
<circle cx="150.90" cy="514.00" r="1.20" stroke="#3a3a3a" stroke-width="0.7" fill="none"/>
<circle cx="150.90" cy="526.70" r="1.20" stroke="#3a3a3a" stroke-width="0.7" fill="none"/>
<line x1="138.90" y1="514.00" x2="162.90" y2="514.00" stroke="#3a3a3a" stroke-width="0.9" />
<line x1="138.90" y1="526.70" x2="162.90" y2="526.70" stroke="#3a3a3a" stroke-width="0.9" />
<rect x="218.00" y="333.00" width="2.10" height="21.00" stroke="#3a3a3a" stroke-width="0.9" fill="none" />
<path d="M217.2,334.5 L219.05,331 L220.9,334.5" stroke="#3a3a3a" stroke-width="0.9" fill="none" />
<path d="M217.2,352.5 L219.05,356 L220.9,352.5" stroke="#3a3a3a" stroke-width="0.9" fill="none" />
<rect x="231.10" y="333.00" width="2.10" height="21.00" stroke="#3a3a3a" stroke-width="0.9" fill="none" />
<path d="M230.29999999999998,334.5 L232.15,331 L234.0,334.5" stroke="#3a3a3a" stroke-width="0.9" fill="none" />
<path d="M230.29999999999998,352.5 L232.15,356 L234.0,352.5" stroke="#3a3a3a" stroke-width="0.9" fill="none" />
<rect x="221.10" y="331.00" width="8.90" height="53.00" stroke="#3a3a3a" stroke-width="1.0" fill="#f0f0f0" />
<line x1="223.30" y1="331.00" x2="223.30" y2="384.00" stroke="#3a3a3a" stroke-width="0.9" />
<line x1="227.70" y1="331.00" x2="227.70" y2="384.00" stroke="#3a3a3a" stroke-width="0.9" />
<line x1="201.60" y1="342.50" x2="241.60" y2="342.50" stroke="#3a3a3a" stroke-width="0.9" stroke-dasharray="6 2 1.5 2"/>
<rect x="207.40" y="339.50" width="5.20" height="7.00" stroke="#3a3a3a" stroke-width="1.0" fill="#999" />
<line x1="210.00" y1="339.50" x2="210.00" y2="346.50" stroke="#3a3a3a" stroke-width="0.7" />
<rect x="212.60" y="339.50" width="5.00" height="7.00" stroke="#3a3a3a" stroke-width="1.0" fill="#aaa" />
<line x1="215.10" y1="339.50" x2="215.10" y2="346.50" stroke="#3a3a3a" stroke-width="0.7" />
<line x1="217.60" y1="342.50" x2="218.00" y2="342.50" stroke="#3a3a3a" stroke-width="1.6" />
<rect x="231.10" y="339.50" width="5.80" height="7.00" stroke="#3a3a3a" stroke-width="1.0" fill="#aaa" />
<rect x="224.00" y="339.50" width="3.20" height="6.50" stroke="#3a3a3a" stroke-width="0.5" fill="#999" />
<line x1="213.10" y1="369.60" x2="243.10" y2="369.60" stroke="#3a3a3a" stroke-width="0.9" stroke-dasharray="6 2 1.5 2"/>
<rect x="218.70" y="365.80" width="2.90" height="7.00" stroke="#3a3a3a" stroke-width="0.9" fill="#bbb" />
<rect x="229.30" y="365.80" width="5.70" height="7.00" stroke="#3a3a3a" stroke-width="1.0" fill="#aaa" />
<rect x="224.00" y="362.50" width="3.20" height="12.00" stroke="#3a3a3a" stroke-width="0.5" fill="#999" />
<rect x="213.00" y="376.00" width="8.80" height="9.30" stroke="#3a3a3a" stroke-width="1.0" fill="#ccc" />
<rect x="214.60" y="377.60" width="5.60" height="6.00" stroke="#3a3a3a" stroke-width="0.8" fill="none" />
<rect x="229.30" y="376.00" width="8.80" height="9.30" stroke="#3a3a3a" stroke-width="1.0" fill="#ccc" />
<rect x="230.90" y="377.60" width="5.60" height="6.00" stroke="#3a3a3a" stroke-width="0.8" fill="none" />
<rect x="223.30" y="392.70" width="4.60" height="6.60" stroke="#3a3a3a" stroke-width="1.0" fill="none" />
<rect x="220.60" y="398.50" width="10.00" height="4.00" stroke="#3a3a3a" stroke-width="1.0" fill="#ddd" />
<circle cx="224.30" cy="418.70" r="13.40" stroke="#444" stroke-width="1.6" fill="none"/>
<circle cx="224.30" cy="418.70" r="11.50" stroke="#3a3a3a" stroke-width="0.9" fill="none"/>
<rect x="212.10" y="426.80" width="4.00" height="5.20" stroke="#3a3a3a" stroke-width="0.9" fill="#bbb" />
<path d="M216.4,447.6 L218.1,444.2 L233.5,444.2 L235.2,447.6 L235.2,461 C235.2,464 231.6,466.7 225.79999999999998,466.7 C219.6,466.7 216.4,464 216.4,461 Z" stroke="#3a3a3a" stroke-width="1.1" fill="#fff" />
<path d="M216.4,447.6 L218.1,444.2 L233.5,444.2 L235.2,447.6 L235.2,459 L216.4,459 Z" fill="#d8d8d8" stroke="none"/>
<path d="M216.2,447.5 Q218.6,448.0 220.79999999999998,449.9" stroke="#333" stroke-width="1.2" fill="none" />
<path d="M235.4,447.5 Q233.0,448.0 230.4,449.9" stroke="#333" stroke-width="1.2" fill="none" />
<path d="M216.2,450.3 Q218.6,450.8 220.79999999999998,452.7" stroke="#333" stroke-width="1.2" fill="none" />
<path d="M235.4,450.3 Q233.0,450.8 230.4,452.7" stroke="#333" stroke-width="1.2" fill="none" />
<path d="M216.2,453.1 Q218.6,453.6 220.79999999999998,455.5" stroke="#333" stroke-width="1.2" fill="none" />
<path d="M235.4,453.1 Q233.0,453.6 230.4,455.5" stroke="#333" stroke-width="1.2" fill="none" />
<path d="M216.2,455.9 Q218.6,456.4 220.79999999999998,458.29999999999995" stroke="#333" stroke-width="1.2" fill="none" />
<path d="M235.4,455.9 Q233.0,456.4 230.4,458.29999999999995" stroke="#333" stroke-width="1.2" fill="none" />
<circle cx="224.30" cy="493.00" r="13.40" stroke="#444" stroke-width="1.6" fill="none"/>
<circle cx="224.30" cy="493.00" r="11.50" stroke="#3a3a3a" stroke-width="0.9" fill="none"/>
<rect x="217.10" y="485.00" width="3.50" height="5.00" stroke="#3a3a3a" stroke-width="0.8" fill="none" />
<rect x="223.40" y="402.50" width="4.40" height="14.00" stroke="#3a3a3a" stroke-width="1.0" fill="#fff" />
<rect x="216.10" y="415.50" width="18.00" height="3.00" stroke="#3a3a3a" stroke-width="1.0" fill="#eee" />
<rect x="220.60" y="418.50" width="9.70" height="80.50" stroke="#3a3a3a" stroke-width="1.1" fill="#e8e8e8" />
<rect x="223.70" y="418.50" width="3.20" height="80.50" stroke="#3a3a3a" stroke-width="1.0" fill="#f8f8f8" />
<rect x="224.50" y="421.00" width="1.60" height="1.40" stroke="#3a3a3a" stroke-width="0" fill="#888" />
<rect x="224.50" y="424.60" width="1.60" height="1.40" stroke="#3a3a3a" stroke-width="0" fill="#888" />
<rect x="224.50" y="428.20" width="1.60" height="1.40" stroke="#3a3a3a" stroke-width="0" fill="#888" />
<rect x="224.50" y="431.80" width="1.60" height="1.40" stroke="#3a3a3a" stroke-width="0" fill="#888" />
<rect x="224.50" y="435.40" width="1.60" height="1.40" stroke="#3a3a3a" stroke-width="0" fill="#888" />
<rect x="224.50" y="439.00" width="1.60" height="1.40" stroke="#3a3a3a" stroke-width="0" fill="#888" />
<rect x="224.50" y="442.60" width="1.60" height="1.40" stroke="#3a3a3a" stroke-width="0" fill="#888" />
<rect x="224.50" y="446.20" width="1.60" height="1.40" stroke="#3a3a3a" stroke-width="0" fill="#888" />
<rect x="224.50" y="449.80" width="1.60" height="1.40" stroke="#3a3a3a" stroke-width="0" fill="#888" />
<rect x="224.50" y="453.40" width="1.60" height="1.40" stroke="#3a3a3a" stroke-width="0" fill="#888" />
<rect x="224.50" y="457.00" width="1.60" height="1.40" stroke="#3a3a3a" stroke-width="0" fill="#888" />
<rect x="224.50" y="460.60" width="1.60" height="1.40" stroke="#3a3a3a" stroke-width="0" fill="#888" />
<rect x="224.50" y="464.20" width="1.60" height="1.40" stroke="#3a3a3a" stroke-width="0" fill="#888" />
<rect x="224.50" y="467.80" width="1.60" height="1.40" stroke="#3a3a3a" stroke-width="0" fill="#888" />
<rect x="224.50" y="471.40" width="1.60" height="1.40" stroke="#3a3a3a" stroke-width="0" fill="#888" />
<rect x="224.50" y="475.00" width="1.60" height="1.40" stroke="#3a3a3a" stroke-width="0" fill="#888" />
<rect x="224.50" y="478.60" width="1.60" height="1.40" stroke="#3a3a3a" stroke-width="0" fill="#888" />
<rect x="224.50" y="482.20" width="1.60" height="1.40" stroke="#3a3a3a" stroke-width="0" fill="#888" />
<rect x="224.50" y="485.80" width="1.60" height="1.40" stroke="#3a3a3a" stroke-width="0" fill="#888" />
<rect x="224.50" y="489.40" width="1.60" height="1.40" stroke="#3a3a3a" stroke-width="0" fill="#888" />
<rect x="224.50" y="493.00" width="1.60" height="1.40" stroke="#3a3a3a" stroke-width="0" fill="#888" />
<rect x="224.50" y="496.60" width="1.60" height="1.40" stroke="#3a3a3a" stroke-width="0" fill="#888" />
<rect x="217.80" y="499.50" width="15.90" height="33.90" stroke="#3a3a3a" stroke-width="1.0" fill="#fff" />
<circle cx="225.60" cy="514.00" r="3.30" stroke="#3a3a3a" stroke-width="1.0" fill="none"/>
<circle cx="225.60" cy="526.70" r="3.30" stroke="#3a3a3a" stroke-width="1.0" fill="none"/>
<circle cx="225.60" cy="514.00" r="1.20" stroke="#3a3a3a" stroke-width="0.7" fill="none"/>
<circle cx="225.60" cy="526.70" r="1.20" stroke="#3a3a3a" stroke-width="0.7" fill="none"/>
<line x1="213.60" y1="514.00" x2="237.60" y2="514.00" stroke="#3a3a3a" stroke-width="0.9" />
<line x1="213.60" y1="526.70" x2="237.60" y2="526.70" stroke="#3a3a3a" stroke-width="0.9" />
<line x1="486.20" y1="110.30" x2="486.20" y2="256.00" stroke="#3a3a3a" stroke-width="1.0" />
<line x1="513.10" y1="194.00" x2="513.10" y2="256.00" stroke="#3a3a3a" stroke-width="1.0" />
<line x1="631.00" y1="139.00" x2="631.00" y2="256.00" stroke="#3a3a3a" stroke-width="1.0" />
<line x1="486.20" y1="253.10" x2="631.00" y2="253.10" stroke="#3a3a3a" stroke-width="1.0" />
<polygon points="486.20,253.10 493.60,250.80 493.60,255.40" fill="#222"/>
<polygon points="513.10,253.10 505.70,250.80 505.70,255.40" fill="#222"/>
<polygon points="513.10,253.10 520.50,250.80 520.50,255.40" fill="#222"/>
<polygon points="631.00,253.10 623.60,250.80 623.60,255.40" fill="#222"/>
<text x="500.2" y="251.2" font-size="10.6" font-weight="bold" text-anchor="middle" fill="#222" stroke="#222" stroke-width="0.2">D</text>
<text x="572.7" y="251.2" font-size="10.6" font-weight="bold" text-anchor="middle" fill="#222" stroke="#222" stroke-width="0.2">C</text>
<polygon points="533.62,72.43 567.52,32.83 557.88,24.57 523.98,64.17" stroke="#3a3a3a" stroke-width="1.0" fill="#fff"/>
<polygon points="532.26,71.26 564.99,33.03 558.07,27.11 525.34,65.34" stroke="#3a3a3a" stroke-width="0.8" fill="none"/>
<line x1="523.00" y1="76.00" x2="571.00" y2="20.00" stroke="#3a3a3a" stroke-width="0.8" stroke-dasharray="6 2 1.5 2"/>
<circle cx="556.50" cy="37.00" r="3.20" stroke="#3a3a3a" stroke-width="0.9" fill="none"/>
<rect x="552.00" y="33.00" width="8.00" height="8.00" stroke="#3a3a3a" stroke-width="0.8" fill="none" transform="rotate(-49.5 556 37)"/>
<rect x="545" y="40" width="7" height="6" fill="#888" stroke="#555" stroke-width="0.6" transform="rotate(-49.5 548.5 43)"/>
<rect x="513.20" y="63.00" width="17.10" height="25.00" stroke="#3a3a3a" stroke-width="1.0" fill="#fff" />
<line x1="513.20" y1="63.00" x2="513.20" y2="194.00" stroke="#3a3a3a" stroke-width="1.1" />
<line x1="516.50" y1="63.00" x2="516.50" y2="194.00" stroke="#3a3a3a" stroke-width="1.0" />
<line x1="529.40" y1="146.00" x2="529.40" y2="177.00" stroke="#3a3a3a" stroke-width="1.0" />
<line x1="513.20" y1="194.00" x2="530.00" y2="194.00" stroke="#3a3a3a" stroke-width="1.0" />
<path d="M513.3,75.4 C510,75.5 507,76.5 505.5,77.8 C502.5,80 501,82 500.8,84 C499.5,87 498.8,90 497.7,92.6 C496,96 494,99 491.4,101.3 C489,104.5 487,108 485.9,110.7 C485.5,112.5 487,113.3 489,113 C492,112.5 495,111.5 497.7,110.7 L514.9,104.4 L522.8,106 L521,86 L517.3,84.4 C514,84.6 511,85 509,85.5" stroke="#3a3a3a" stroke-width="1.1" fill="#fff" />
<path d="M507.9,80.5 C506,82 505,84 504,85.6 C502.5,88 501.8,91 500.8,93.4 C499,96.5 497,98.5 495.3,100.5 C492,104.5 489.5,108 487.5,110.7" stroke="#3a3a3a" stroke-width="0.9" fill="none" />
<path d="M505.5,86 C504.5,89 504,93 503.2,95.8 C500,101 495,106 489.8,111.5" stroke="#3a3a3a" stroke-width="0.8" fill="none" />
<circle cx="508.60" cy="82.80" r="2.40" stroke="#3a3a3a" stroke-width="0.9" fill="none"/>
<path d="M526.3,93.1 L548.8,112 A4 4 0 0 1 542.6,118.8 L521.3,105" stroke="#3a3a3a" stroke-width="1.1" fill="#fff" />
<circle cx="543.80" cy="115.30" r="2.50" stroke="#3a3a3a" stroke-width="0.9" fill="none"/>
<line x1="522.00" y1="97.00" x2="544.00" y2="115.50" stroke="#3a3a3a" stroke-width="0.7" stroke-dasharray="6 2 1.5 2"/>
<path d="M524.3,118.3 C522.8,123 524.5,129.5 530,132 C536,134.5 544.5,130.5 550.5,122.5 C553.5,118.5 555.5,114 557.5,110.5 L554,109.8 C552,113 550,116.5 547.5,120 C543,126 537.5,129 532.5,128 C529.5,127 528,123 528.3,118.8 C528.5,116.5 525,116 524.3,118.3 Z" stroke="#3a3a3a" stroke-width="1.1" fill="#fff" />
<path d="M526.5,121 C526.5,126 528.5,129.5 531.5,130.2 C537,131.5 543.5,127.5 549,121 C551.5,117.5 553.5,114 555.5,110.5" stroke="#3a3a3a" stroke-width="0.7" fill="none" />
<circle cx="523.40" cy="76.40" r="6.40" stroke="#3a3a3a" stroke-width="1.2" fill="#fff"/>
<circle cx="523.40" cy="76.40" r="4.40" stroke="#3a3a3a" stroke-width="0.9" fill="none"/>
<circle cx="523.40" cy="76.40" r="2.60" stroke="#3a3a3a" stroke-width="0.6" fill="none"/>
<circle cx="522.10" cy="97.10" r="6.40" stroke="#3a3a3a" stroke-width="1.2" fill="#fff"/>
<circle cx="522.10" cy="97.10" r="4.40" stroke="#3a3a3a" stroke-width="0.9" fill="none"/>
<circle cx="522.10" cy="97.10" r="2.60" stroke="#3a3a3a" stroke-width="0.6" fill="none"/>
<circle cx="523.30" cy="137.00" r="6.40" stroke="#3a3a3a" stroke-width="1.2" fill="#fff"/>
<circle cx="523.30" cy="137.00" r="4.40" stroke="#3a3a3a" stroke-width="0.9" fill="none"/>
<circle cx="523.30" cy="137.00" r="2.60" stroke="#3a3a3a" stroke-width="0.6" fill="none"/>
<path d="M548.80,100.50 Q549.90,97.50 551.00,100.50 Q552.10,103.50 553.20,100.50 Q554.30,97.50 555.40,100.50 Q556.50,103.50 557.60,100.50 L557.6,123.2  Q556.50,120.20 555.40,123.20 Q554.30,126.20 553.20,123.20 Q552.10,120.20 551.00,123.20 Q549.90,126.20 548.80,123.20 Z" stroke="#3a3a3a" stroke-width="1.0" fill="#fff" />
<line x1="557.60" y1="98.50" x2="557.60" y2="124.00" stroke="#3a3a3a" stroke-width="0.9" />
<line x1="560.10" y1="98.50" x2="560.10" y2="124.00" stroke="#3a3a3a" stroke-width="0.9" />
<line x1="563.30" y1="98.50" x2="563.30" y2="124.00" stroke="#3a3a3a" stroke-width="0.9" />
<line x1="565.10" y1="98.50" x2="565.10" y2="124.00" stroke="#3a3a3a" stroke-width="0.9" />
<line x1="567.40" y1="98.50" x2="567.40" y2="124.00" stroke="#3a3a3a" stroke-width="0.9" />
<line x1="567.60" y1="101.30" x2="593.40" y2="101.30" stroke="#3a3a3a" stroke-width="1.0" />
<line x1="571.40" y1="103.20" x2="580.50" y2="103.20" stroke="#3a3a3a" stroke-width="1.0" />
<line x1="568.90" y1="101.30" x2="568.90" y2="118.20" stroke="#3a3a3a" stroke-width="1.0" />
<line x1="571.40" y1="103.20" x2="571.40" y2="118.20" stroke="#3a3a3a" stroke-width="1.0" />
<line x1="567.60" y1="118.20" x2="571.40" y2="118.20" stroke="#3a3a3a" stroke-width="1.0" />
<rect x="571.40" y="108.80" width="4.40" height="7.50" stroke="#3a3a3a" stroke-width="0.9" fill="#aaa" />
<rect x="578.80" y="81.30" width="14.70" height="111.40" stroke="#3a3a3a" stroke-width="1.1" fill="none" />
<rect x="581.20" y="103.20" width="9.60" height="86.20" stroke="#3a3a3a" stroke-width="0.9" fill="none" />
<line x1="567.60" y1="98.80" x2="622.60" y2="98.80" stroke="#3a3a3a" stroke-width="1.0" />
<line x1="593.40" y1="101.60" x2="622.60" y2="101.60" stroke="#3a3a3a" stroke-width="1.0" />
<rect x="600.70" y="88.50" width="7.70" height="10.30" stroke="#3a3a3a" stroke-width="1.0" fill="#ccc" />
<rect x="602.50" y="86.00" width="4.00" height="2.50" stroke="#3a3a3a" stroke-width="0.8" fill="none" />
<line x1="604.55" y1="88.50" x2="604.55" y2="98.80" stroke="#3a3a3a" stroke-width="0.7" />
<rect x="612.80" y="88.50" width="7.70" height="10.30" stroke="#3a3a3a" stroke-width="1.0" fill="#ccc" />
<rect x="614.60" y="86.00" width="4.00" height="2.50" stroke="#3a3a3a" stroke-width="0.8" fill="none" />
<line x1="616.65" y1="88.50" x2="616.65" y2="98.80" stroke="#3a3a3a" stroke-width="0.7" />
<circle cx="584.80" cy="112.60" r="4.40" stroke="#3a3a3a" stroke-width="1.0" fill="none"/>
<circle cx="584.80" cy="112.60" r="2.50" stroke="#3a3a3a" stroke-width="0.8" fill="none"/>
<path d="M584.8,133.5 L587.3,137 L584.8,140.5 L582.3,137 Z" stroke="#3a3a3a" stroke-width="0.9" fill="none" />
<line x1="574.40" y1="137.00" x2="595.20" y2="137.00" stroke="#3a3a3a" stroke-width="0.9" />
<line x1="584.80" y1="128.00" x2="584.80" y2="146.00" stroke="#3a3a3a" stroke-width="0.8" />
<path d="M584.8,172.7 L587.3,176.2 L584.8,179.7 L582.3,176.2 Z" stroke="#3a3a3a" stroke-width="0.9" fill="none" />
<line x1="574.40" y1="176.20" x2="595.20" y2="176.20" stroke="#3a3a3a" stroke-width="0.9" />
<line x1="584.80" y1="167.20" x2="584.80" y2="185.20" stroke="#3a3a3a" stroke-width="0.8" />
<line x1="584.80" y1="118.00" x2="584.80" y2="190.00" stroke="#3a3a3a" stroke-width="0.7" stroke-dasharray="6 2 1.5 2"/>
<polygon points="593.40,112.00 630.30,139.00 622.60,147.70 593.40,124.00" stroke="#3a3a3a" stroke-width="1.0" fill="#fff"/>
<line x1="585.20" y1="116.30" x2="600.00" y2="128.50" stroke="#3a3a3a" stroke-width="0.8" />
<polygon points="610.65,142.61 623.95,128.91 621.65,126.69 608.35,140.39" stroke="#3a3a3a" stroke-width="1.0" fill="#fff"/>
<line x1="598.00" y1="123.00" x2="636.00" y2="151.00" stroke="#3a3a3a" stroke-width="0.7" stroke-dasharray="6 2 1.5 2"/>
<polygon points="530.70,143.90 561.40,135.80 567.00,151.40 531.90,162.10" stroke="#3a3a3a" stroke-width="1.1" fill="#fff"/>
<line x1="534.00" y1="145.80" x2="535.50" y2="158.50" stroke="#555" stroke-width="0.8" />
<line x1="535.71" y1="145.34" x2="537.29" y2="157.97" stroke="#555" stroke-width="0.8" />
<line x1="537.43" y1="144.89" x2="539.07" y2="157.44" stroke="#555" stroke-width="0.8" />
<line x1="539.14" y1="144.43" x2="540.86" y2="156.91" stroke="#555" stroke-width="0.8" />
<line x1="540.86" y1="143.97" x2="542.64" y2="156.39" stroke="#555" stroke-width="0.8" />
<line x1="542.57" y1="143.51" x2="544.43" y2="155.86" stroke="#555" stroke-width="0.8" />
<line x1="544.29" y1="143.06" x2="546.21" y2="155.33" stroke="#555" stroke-width="0.8" />
<line x1="546.00" y1="142.60" x2="548.00" y2="154.80" stroke="#555" stroke-width="0.8" />
<line x1="547.00" y1="148.60" x2="551.50" y2="147.40" stroke="#3a3a3a" stroke-width="0.8" />
<line x1="551.00" y1="141.20" x2="553.50" y2="154.00" stroke="#555" stroke-width="0.8" />
<line x1="552.67" y1="140.77" x2="555.25" y2="153.50" stroke="#555" stroke-width="0.8" />
<line x1="554.33" y1="140.33" x2="557.00" y2="153.00" stroke="#555" stroke-width="0.8" />
<line x1="556.00" y1="139.90" x2="558.75" y2="152.50" stroke="#555" stroke-width="0.8" />
<line x1="557.67" y1="139.47" x2="560.50" y2="152.00" stroke="#555" stroke-width="0.8" />
<line x1="559.33" y1="139.03" x2="562.25" y2="151.50" stroke="#555" stroke-width="0.8" />
<line x1="561.00" y1="138.60" x2="564.00" y2="151.00" stroke="#555" stroke-width="0.8" />
<line x1="551.00" y1="141.20" x2="564.00" y2="138.00" stroke="#3a3a3a" stroke-width="0.7" />
<line x1="553.50" y1="154.00" x2="564.50" y2="151.00" stroke="#3a3a3a" stroke-width="0.7" />
<polygon points="566.70,145.46 579.70,139.96 578.30,136.64 565.30,142.14" stroke="#3a3a3a" stroke-width="0.9" fill="#fff"/>
<rect x="574.00" y="137.00" width="3.50" height="5.00" stroke="#3a3a3a" stroke-width="0.8" fill="#999" transform="rotate(-20 575.7 139.5)"/>
<path d="M531.40,175.00 Q534.45,171.80 537.50,175.00 Q540.55,178.20 543.60,175.00 Q546.65,171.80 549.70,175.00 Q552.75,178.20 555.80,175.00 Q558.85,171.80 561.90,175.00 Q564.95,178.20 568.00,175.00 L568,197.3  Q564.95,194.10 561.90,197.30 Q558.85,200.50 555.80,197.30 Q552.75,194.10 549.70,197.30 Q546.65,200.50 543.60,197.30 Q540.55,194.10 537.50,197.30 Q534.45,200.50 531.40,197.30 Z" stroke="#3a3a3a" stroke-width="1.0" fill="#fff" />
<line x1="529.90" y1="173.00" x2="529.90" y2="199.00" stroke="#3a3a3a" stroke-width="1.0" />
<line x1="531.40" y1="173.00" x2="531.40" y2="199.00" stroke="#3a3a3a" stroke-width="1.0" />
<circle cx="536.90" cy="185.70" r="2.10" stroke="#3a3a3a" stroke-width="0.9" fill="none"/>
<rect x="516.70" y="177.10" width="13.20" height="16.30" stroke="#3a3a3a" stroke-width="1.0" fill="none" />
<rect x="523.70" y="181.80" width="3.10" height="7.70" stroke="#3a3a3a" stroke-width="0.9" fill="#aaa" />
<rect x="568.00" y="177.10" width="10.90" height="16.30" stroke="#3a3a3a" stroke-width="1.0" fill="none" />
<rect x="570.00" y="181.00" width="3.50" height="8.00" stroke="#3a3a3a" stroke-width="0.9" fill="#aaa" />
<line x1="568.20" y1="193.40" x2="568.20" y2="222.20" stroke="#3a3a3a" stroke-width="1.2" />
<rect x="566.20" y="201.20" width="3.60" height="8.60" stroke="#3a3a3a" stroke-width="0.9" fill="#666" />
<rect x="569.80" y="201.70" width="3.20" height="7.60" stroke="#3a3a3a" stroke-width="0.9" fill="#999" />
<rect x="573.00" y="202.70" width="3.50" height="5.60" stroke="#3a3a3a" stroke-width="0.9" fill="#bbb" />
<line x1="576.50" y1="205.50" x2="586.60" y2="205.50" stroke="#3a3a3a" stroke-width="1.0" />
<rect x="566.20" y="212.10" width="3.60" height="10.10" stroke="#3a3a3a" stroke-width="0.9" fill="#666" />
<rect x="569.80" y="212.60" width="3.20" height="9.10" stroke="#3a3a3a" stroke-width="0.9" fill="#999" />
<rect x="573.00" y="213.60" width="3.50" height="7.10" stroke="#3a3a3a" stroke-width="0.9" fill="#bbb" />
<line x1="576.50" y1="217.15" x2="586.60" y2="217.15" stroke="#3a3a3a" stroke-width="1.0" />
<line x1="475.00" y1="385.00" x2="475.00" y2="444.00" stroke="#3a3a3a" stroke-width="1.0" />
<line x1="506.70" y1="500.00" x2="506.70" y2="581.70" stroke="#3a3a3a" stroke-width="1.0" />
<line x1="475.90" y1="387.90" x2="501.50" y2="387.90" stroke="#3a3a3a" stroke-width="1.0" />
<polygon points="475.90,387.90 483.30,385.60 483.30,390.20" fill="#222"/>
<polygon points="501.50,387.90 494.10,385.60 494.10,390.20" fill="#222"/>
<text x="489.5" y="383.7" font-size="10.6" font-weight="bold" text-anchor="middle" fill="#222" stroke="#222" stroke-width="0.2">D</text>
<line x1="506.70" y1="579.50" x2="643.00" y2="579.50" stroke="#3a3a3a" stroke-width="1.0" />
<polygon points="506.70,579.50 514.10,577.20 514.10,581.80" fill="#222"/>
<polygon points="642.80,579.50 635.40,577.20 635.40,581.80" fill="#222"/>
<text x="575.3" y="576.1" font-size="10.6" font-weight="bold" text-anchor="middle" fill="#222" stroke="#222" stroke-width="0.2">C</text>
<line x1="502.90" y1="381.90" x2="502.90" y2="433.30" stroke="#3a3a3a" stroke-width="1.1" />
<line x1="505.70" y1="381.90" x2="505.70" y2="433.30" stroke="#3a3a3a" stroke-width="0.9" />
<line x1="502.90" y1="381.90" x2="522.50" y2="381.90" stroke="#3a3a3a" stroke-width="1.0" />
<line x1="522.50" y1="381.90" x2="522.50" y2="389.00" stroke="#3a3a3a" stroke-width="1.0" />
<line x1="506.40" y1="480.00" x2="506.40" y2="516.70" stroke="#3a3a3a" stroke-width="1.0" />
<line x1="508.90" y1="480.00" x2="508.90" y2="516.70" stroke="#3a3a3a" stroke-width="0.9" />
<line x1="524.50" y1="452.60" x2="524.50" y2="489.00" stroke="#3a3a3a" stroke-width="1.0" />
<polygon points="526.05,388.28 557.05,335.58 544.55,328.22 513.55,380.92" stroke="#3a3a3a" stroke-width="1.0" fill="#fff"/>
<polygon points="524.50,387.36 554.58,336.21 545.19,330.69 515.10,381.84" stroke="#3a3a3a" stroke-width="0.8" fill="none"/>
<line x1="516.00" y1="392.00" x2="558.00" y2="320.60" stroke="#3a3a3a" stroke-width="0.8" stroke-dasharray="6 2 1.5 2"/>
<circle cx="544.50" cy="340.70" r="3.00" stroke="#3a3a3a" stroke-width="0.9" fill="none"/>
<circle cx="544.50" cy="340.70" r="1.20" stroke="#3a3a3a" stroke-width="0.6" fill="none"/>
<rect x="538.00" y="335.00" width="12.00" height="9.00" stroke="#3a3a3a" stroke-width="0.8" fill="none" transform="rotate(-59.5 544.5 340.7)"/>
<rect x="533" y="346" width="11" height="5" fill="#999" stroke="#555" stroke-width="0.6" transform="rotate(-59.5 539 350)"/>
<path d="M522.6,391.3 C527,393 531,395 536,399 C543,404 549,411 551.5,419 C553,426 551,433 546,435 C542,436.5 537,435.5 534.5,433 C532.5,431 533.5,428.5 536,428.8 C540,429.5 543.5,429.2 545.5,426 C547,423 545,416 540,410 C537,407 533,406 530,407 C526,408 521,405 516.9,401.6 Z" stroke="#3a3a3a" stroke-width="1.1" fill="#fff" />
<path d="M534,401.5 C541,406 547.5,413 549.3,420.5 C550.5,426 549.5,430.5 546.5,432.5" stroke="#3a3a3a" stroke-width="0.8" fill="none" />
<path d="M526,400 L530.6,398.5 L535,404.5 L530.6,409 Z" stroke="#3a3a3a" stroke-width="0.8" fill="none" />
<circle cx="530.60" cy="404.50" r="2.50" stroke="#3a3a3a" stroke-width="0.9" fill="none"/>
<path d="M511.3,426.1 C514,420 518.8,414.8 526.3,404.5" stroke="#3a3a3a" stroke-width="1.0" fill="none" />
<line x1="523.50" y1="391.30" x2="531.00" y2="380.00" stroke="#3a3a3a" stroke-width="1.0" />
<path d="M501,433.5 L474.7,444.3 C474.7,449 475,453 476,455 C478,461 481,465 484.1,467.3 C489,471.5 494,474.5 498.2,474.9 C503,475.3 507,474.5 509.5,473 C512,471 514,468 514.2,465.5 L520,452 L519,441" stroke="#3a3a3a" stroke-width="1.1" fill="#fff" />
<path d="M478.5,448 C480,455 482,459 485,462.6 C489,467 494,470.5 498.2,471.1 C502,471.6 505.5,471 507.6,469.2 C510.5,467 511.5,463.5 509.5,460 C507.5,458 505,459.5 505,462.5 C504,465.5 501,466.5 498.2,466.4 C493,465 488,460 484,455 C481,451.5 480,449 478.5,448 Z" stroke="#3a3a3a" stroke-width="1.0" fill="#fff" />
<circle cx="508.60" cy="461.70" r="2.30" stroke="#3a3a3a" stroke-width="0.9" fill="none"/>
<path d="M518,429 L540.5,451.5 A4 4 0 0 1 535,461 L513,440" stroke="#3a3a3a" stroke-width="1.1" fill="#fff" />
<circle cx="537.70" cy="456.30" r="3.00" stroke="#3a3a3a" stroke-width="0.9" fill="none"/>
<circle cx="515.50" cy="392.50" r="7.00" stroke="#3a3a3a" stroke-width="1.2" fill="#fff"/>
<circle cx="515.50" cy="392.50" r="4.60" stroke="#3a3a3a" stroke-width="0.9" fill="none"/>
<line x1="499.50" y1="392.50" x2="530.50" y2="392.50" stroke="#3a3a3a" stroke-width="0.9" />
<line x1="515.50" y1="381.50" x2="515.50" y2="403.50" stroke="#3a3a3a" stroke-width="0.9" />
<circle cx="515.80" cy="435.00" r="7.00" stroke="#3a3a3a" stroke-width="1.2" fill="#fff"/>
<circle cx="515.80" cy="435.00" r="4.60" stroke="#3a3a3a" stroke-width="0.9" fill="none"/>
<line x1="499.80" y1="435.00" x2="530.80" y2="435.00" stroke="#3a3a3a" stroke-width="0.9" />
<line x1="515.80" y1="424.00" x2="515.80" y2="446.00" stroke="#3a3a3a" stroke-width="0.9" />
<circle cx="516.40" cy="481.40" r="7.00" stroke="#3a3a3a" stroke-width="1.2" fill="#fff"/>
<circle cx="516.40" cy="481.40" r="4.60" stroke="#3a3a3a" stroke-width="0.9" fill="none"/>
<line x1="500.40" y1="481.40" x2="531.40" y2="481.40" stroke="#3a3a3a" stroke-width="0.9" />
<line x1="516.40" y1="470.40" x2="516.40" y2="492.40" stroke="#3a3a3a" stroke-width="0.9" />
<path d="M516.4,488.4 L531.4,485.2 L522,474" stroke="#3a3a3a" stroke-width="0.9" fill="none" />
<path d="M550.00,410.70 Q551.76,407.70 553.52,410.70 Q555.28,413.70 557.04,410.70 Q558.80,407.70 560.56,410.70 Q562.32,413.70 564.08,410.70 Q565.84,407.70 567.60,410.70 L567.6,438.3  Q565.84,435.30 564.08,438.30 Q562.32,441.30 560.56,438.30 Q558.80,435.30 557.04,438.30 Q555.28,441.30 553.52,438.30 Q551.76,435.30 550.00,438.30 Z" stroke="#3a3a3a" stroke-width="1.0" fill="#fff" />
<line x1="554.50" y1="413.00" x2="554.50" y2="436.00" stroke="#3a3a3a" stroke-width="0.9" />
<line x1="557.60" y1="413.00" x2="557.60" y2="436.00" stroke="#3a3a3a" stroke-width="0.9" />
<line x1="560.10" y1="413.00" x2="560.10" y2="436.00" stroke="#3a3a3a" stroke-width="0.9" />
<line x1="563.30" y1="413.00" x2="563.30" y2="436.00" stroke="#3a3a3a" stroke-width="0.9" />
<line x1="565.80" y1="413.00" x2="565.80" y2="436.00" stroke="#3a3a3a" stroke-width="0.9" />
<line x1="568.30" y1="408.80" x2="630.70" y2="408.80" stroke="#3a3a3a" stroke-width="1.0" />
<line x1="571.40" y1="411.60" x2="630.70" y2="411.60" stroke="#3a3a3a" stroke-width="1.0" />
<line x1="568.90" y1="408.80" x2="568.90" y2="431.40" stroke="#3a3a3a" stroke-width="1.0" />
<line x1="571.40" y1="411.60" x2="571.40" y2="431.40" stroke="#3a3a3a" stroke-width="1.0" />
<line x1="567.60" y1="431.40" x2="571.40" y2="431.40" stroke="#3a3a3a" stroke-width="1.0" />
<path d="M571.4,420.5 L575.5,423.9 L571.4,427.3 Z" stroke="#3a3a3a" stroke-width="0.8" fill="#555" />
<polygon points="577.80,501.20 633.40,463.40 643.00,476.70 593.40,511.20" stroke="#3a3a3a" stroke-width="1.0" fill="#fff"/>
<polygon points="608.64,473.22 625.44,495.52 628.16,493.48 611.36,471.18" stroke="#3a3a3a" stroke-width="1.0" fill="#fff"/>
<line x1="588.00" y1="507.00" x2="643.00" y2="469.00" stroke="#3a3a3a" stroke-width="0.7" stroke-dasharray="6 2 1.5 2"/>
<rect x="577.90" y="387.30" width="15.50" height="128.30" stroke="#3a3a3a" stroke-width="1.1" fill="none" />
<line x1="581.20" y1="411.60" x2="581.20" y2="515.60" stroke="#3a3a3a" stroke-width="0.9" />
<line x1="590.80" y1="411.60" x2="590.80" y2="515.60" stroke="#3a3a3a" stroke-width="0.9" />
<path d="M581.5,413.5 L586.5,413.5 L584,418.5 Z" stroke="#3a3a3a" stroke-width="0.8" fill="#666" />
<rect x="581.40" y="424.50" width="8.80" height="20.70" stroke="#3a3a3a" stroke-width="0.9" fill="none" />
<circle cx="584.80" cy="435.30" r="3.50" stroke="#3a3a3a" stroke-width="0.9" fill="none"/>
<line x1="574.50" y1="435.30" x2="595.90" y2="435.30" stroke="#3a3a3a" stroke-width="0.9" />
<line x1="584.80" y1="426.00" x2="584.80" y2="445.00" stroke="#3a3a3a" stroke-width="0.8" />
<rect x="600.00" y="400.00" width="7.50" height="8.80" stroke="#3a3a3a" stroke-width="1.0" fill="#ccc" />
<rect x="601.50" y="397.50" width="4.50" height="2.50" stroke="#3a3a3a" stroke-width="0.8" fill="none" />
<rect x="600.50" y="411.60" width="6.50" height="3.50" stroke="#3a3a3a" stroke-width="1.0" fill="#ccc" />
<line x1="603.75" y1="398.00" x2="603.75" y2="415.00" stroke="#3a3a3a" stroke-width="0.7" />
<rect x="614.50" y="400.00" width="7.50" height="8.80" stroke="#3a3a3a" stroke-width="1.0" fill="#ccc" />
<rect x="616.00" y="397.50" width="4.50" height="2.50" stroke="#3a3a3a" stroke-width="0.8" fill="none" />
<rect x="615.00" y="411.60" width="6.50" height="3.50" stroke="#3a3a3a" stroke-width="1.0" fill="#ccc" />
<line x1="618.25" y1="398.00" x2="618.25" y2="415.00" stroke="#3a3a3a" stroke-width="0.7" />
<line x1="593.40" y1="408.80" x2="630.70" y2="408.80" stroke="#3a3a3a" stroke-width="1.0" />
<circle cx="585.60" cy="480.00" r="3.20" stroke="#3a3a3a" stroke-width="0.9" fill="none"/>
<line x1="571.00" y1="480.00" x2="597.80" y2="480.00" stroke="#3a3a3a" stroke-width="0.9" />
<line x1="585.60" y1="472.00" x2="585.60" y2="488.00" stroke="#3a3a3a" stroke-width="0.8" />
<circle cx="585.60" cy="506.70" r="3.20" stroke="#3a3a3a" stroke-width="0.9" fill="none"/>
<line x1="571.00" y1="506.70" x2="597.80" y2="506.70" stroke="#3a3a3a" stroke-width="0.9" />
<line x1="585.60" y1="498.70" x2="585.60" y2="514.70" stroke="#3a3a3a" stroke-width="0.8" />
<line x1="585.60" y1="447.00" x2="585.60" y2="515.00" stroke="#3a3a3a" stroke-width="0.7" stroke-dasharray="6 2 1.5 2"/>
<polygon points="526.70,456.70 569.00,467.80 565.60,483.40 524.50,471.00" stroke="#3a3a3a" stroke-width="1.1" fill="#fff"/>
<line x1="530.00" y1="458.30" x2="528.00" y2="471.80" stroke="#555" stroke-width="0.8" />
<line x1="531.71" y1="458.76" x2="529.71" y2="472.26" stroke="#555" stroke-width="0.8" />
<line x1="533.43" y1="459.21" x2="531.43" y2="472.71" stroke="#555" stroke-width="0.8" />
<line x1="535.14" y1="459.67" x2="533.14" y2="473.17" stroke="#555" stroke-width="0.8" />
<line x1="536.86" y1="460.13" x2="534.86" y2="473.63" stroke="#555" stroke-width="0.8" />
<line x1="538.57" y1="460.59" x2="536.57" y2="474.09" stroke="#555" stroke-width="0.8" />
<line x1="540.29" y1="461.04" x2="538.29" y2="474.54" stroke="#555" stroke-width="0.8" />
<line x1="542.00" y1="461.50" x2="540.00" y2="475.00" stroke="#555" stroke-width="0.8" />
<line x1="543.00" y1="468.00" x2="548.00" y2="469.40" stroke="#3a3a3a" stroke-width="0.8" />
<line x1="549.00" y1="462.70" x2="547.00" y2="476.50" stroke="#555" stroke-width="0.8" />
<line x1="551.17" y1="463.28" x2="549.17" y2="477.08" stroke="#555" stroke-width="0.8" />
<line x1="553.33" y1="463.87" x2="551.33" y2="477.67" stroke="#555" stroke-width="0.8" />
<line x1="555.50" y1="464.45" x2="553.50" y2="478.25" stroke="#555" stroke-width="0.8" />
<line x1="557.67" y1="465.03" x2="555.67" y2="478.83" stroke="#555" stroke-width="0.8" />
<line x1="559.83" y1="465.62" x2="557.83" y2="479.42" stroke="#555" stroke-width="0.8" />
<line x1="562.00" y1="466.20" x2="560.00" y2="480.00" stroke="#555" stroke-width="0.8" />
<polygon points="566.70,477.30 576.10,480.60 577.30,477.20 567.90,473.90" stroke="#3a3a3a" stroke-width="0.9" fill="#fff"/>
<path d="M528.90,495.00 Q531.92,491.60 534.94,495.00 Q537.96,498.40 540.99,495.00 Q544.01,491.60 547.03,495.00 Q550.05,498.40 553.07,495.00 Q556.09,491.60 559.11,495.00 Q562.14,498.40 565.16,495.00 Q568.18,491.60 571.20,495.00 L571.2,522.3  Q568.18,518.90 565.16,522.30 Q562.14,525.70 559.11,522.30 Q556.09,518.90 553.07,522.30 Q550.05,525.70 547.03,522.30 Q544.01,518.90 540.99,522.30 Q537.96,525.70 534.94,522.30 Q531.92,518.90 528.90,522.30 Z" stroke="#3a3a3a" stroke-width="1.0" fill="#fff" />
<line x1="537.00" y1="499.00" x2="537.00" y2="518.00" stroke="#3a3a3a" stroke-width="0.8" />
<line x1="543.00" y1="499.00" x2="543.00" y2="518.00" stroke="#3a3a3a" stroke-width="0.8" />
<line x1="549.00" y1="499.00" x2="549.00" y2="518.00" stroke="#3a3a3a" stroke-width="0.8" />
<line x1="555.00" y1="499.00" x2="555.00" y2="518.00" stroke="#3a3a3a" stroke-width="0.8" />
<line x1="561.00" y1="499.00" x2="561.00" y2="518.00" stroke="#3a3a3a" stroke-width="0.8" />
<line x1="567.00" y1="499.00" x2="567.00" y2="518.00" stroke="#3a3a3a" stroke-width="0.8" />
<line x1="533.00" y1="508.50" x2="567.00" y2="508.50" stroke="#3a3a3a" stroke-width="0.6" />
<circle cx="534.00" cy="504.00" r="1.60" stroke="#3a3a3a" stroke-width="0.8" fill="none"/>
<rect x="507.80" y="499.60" width="20.50" height="17.10" stroke="#3a3a3a" stroke-width="1.0" fill="none" />
<path d="M516,511 L521,506 L521,513 Z" stroke="#3a3a3a" stroke-width="0.8" fill="#777" />
<line x1="571.20" y1="500.00" x2="577.90" y2="500.00" stroke="#3a3a3a" stroke-width="1.0" />
<line x1="571.20" y1="516.00" x2="577.90" y2="516.00" stroke="#3a3a3a" stroke-width="1.0" />
<line x1="570.50" y1="516.00" x2="570.50" y2="549.00" stroke="#3a3a3a" stroke-width="1.2" />
<rect x="568.50" y="526.70" width="3.60" height="7.80" stroke="#3a3a3a" stroke-width="0.9" fill="#666" />
<rect x="572.10" y="527.20" width="3.20" height="6.80" stroke="#3a3a3a" stroke-width="0.9" fill="#999" />
<rect x="575.30" y="528.20" width="3.50" height="4.80" stroke="#3a3a3a" stroke-width="0.9" fill="#bbb" />
<line x1="578.80" y1="530.60" x2="592.30" y2="530.60" stroke="#3a3a3a" stroke-width="1.0" />
<rect x="568.50" y="540.00" width="3.60" height="9.00" stroke="#3a3a3a" stroke-width="0.9" fill="#666" />
<rect x="572.10" y="540.50" width="3.20" height="8.00" stroke="#3a3a3a" stroke-width="0.9" fill="#999" />
<rect x="575.30" y="541.50" width="3.50" height="6.00" stroke="#3a3a3a" stroke-width="0.9" fill="#bbb" />
<line x1="578.80" y1="544.50" x2="592.30" y2="544.50" stroke="#3a3a3a" stroke-width="1.0" />
<text x="263.4" y="309.7" font-size="19.3" font-weight="normal" stroke="#1a1a1a" stroke-width="0.95" fill="#1a1a1a" textLength="90.5" lengthAdjust="spacingAndGlyphs" style="font-family:'Liberation Sans',sans-serif">GN24-12D</text>
<path d="M354,295.5 h7.0 v1.6 h-2.1 v11.0 h2.1 v1.6 h-7.0 v-1.6 h2.1 v-11.0 h-2.1 Z" fill="#1a1a1a"/>
<path d="M376.1,295.3 L378.90000000000003,295.3 L378.90000000000003,309.7 L376.1,309.7 L376.1,299.09999999999997 C375.1,300.09999999999997 374.0,300.59999999999997 372.8,300.9 L372.8,298.5 C374.40000000000003,297.9 375.6,296.7 376.1,295.3 Z" fill="#1a1a1a"/>
<line x1="383.10" y1="295.33" x2="393.81" y2="295.33" stroke="#1a1a1a" stroke-width="2.16" stroke-linecap="butt"/>
<line x1="382.79" y1="299.97" x2="394.12" y2="299.97" stroke="#1a1a1a" stroke-width="2.16" stroke-linecap="butt"/>
<path d="M385.99,294.41 L385.99,300.89 Q385.68,303.68 383.10,304.71" stroke="#1a1a1a" stroke-width="1.96" fill="none"/>
<line x1="390.62" y1="294.41" x2="390.62" y2="305.12" stroke="#1a1a1a" stroke-width="2.16" stroke-linecap="butt"/>
<line x1="395.77" y1="295.85" x2="395.77" y2="301.93" stroke="#1a1a1a" stroke-width="1.75" stroke-linecap="butt"/>
<path d="M398.66,294.20 L398.66,303.06 Q398.66,304.09 396.70,303.78" stroke="#1a1a1a" stroke-width="1.96" fill="none"/>
<line x1="385.47" y1="306.87" x2="398.14" y2="306.87" stroke="#1a1a1a" stroke-width="1.75" stroke-linecap="butt"/>
<line x1="391.45" y1="305.01" x2="391.45" y2="309.86" stroke="#1a1a1a" stroke-width="2.16" stroke-linecap="butt"/>
<line x1="382.79" y1="309.75" x2="400.41" y2="309.75" stroke="#1a1a1a" stroke-width="2.27" stroke-linecap="butt"/>
<text x="256.6" y="621.8" font-size="19.3" font-weight="normal" stroke="#1a1a1a" stroke-width="0.95" fill="#1a1a1a" textLength="102.5" lengthAdjust="spacingAndGlyphs" style="font-family:'Liberation Sans',sans-serif">GN24-12DC</text>
<path d="M360,607.5999999999999 h7.0 v1.6 h-2.1 v11.0 h2.1 v1.6 h-7.0 v-1.6 h2.1 v-11.0 h-2.1 Z" fill="#1a1a1a"/>
<path d="M382.40000000000003,607.4 L385.20000000000005,607.4 L385.20000000000005,621.8 L382.40000000000003,621.8 L382.40000000000003,611.1999999999999 C381.40000000000003,612.1999999999999 380.3,612.6999999999999 379.1,613.0 L379.1,610.5999999999999 C380.70000000000005,610.0 381.90000000000003,608.8 382.40000000000003,607.4 Z" fill="#1a1a1a"/>
<line x1="389.10" y1="607.43" x2="399.81" y2="607.43" stroke="#1a1a1a" stroke-width="2.16" stroke-linecap="butt"/>
<line x1="388.79" y1="612.07" x2="400.12" y2="612.07" stroke="#1a1a1a" stroke-width="2.16" stroke-linecap="butt"/>
<path d="M391.99,606.51 L391.99,613.00 Q391.68,615.78 389.10,616.81" stroke="#1a1a1a" stroke-width="1.96" fill="none"/>
<line x1="396.62" y1="606.51" x2="396.62" y2="617.22" stroke="#1a1a1a" stroke-width="2.16" stroke-linecap="butt"/>
<line x1="401.77" y1="607.95" x2="401.77" y2="614.02" stroke="#1a1a1a" stroke-width="1.75" stroke-linecap="butt"/>
<path d="M404.66,606.30 L404.66,615.16 Q404.66,616.19 402.70,615.88" stroke="#1a1a1a" stroke-width="1.96" fill="none"/>
<line x1="391.47" y1="618.97" x2="404.14" y2="618.97" stroke="#1a1a1a" stroke-width="1.75" stroke-linecap="butt"/>
<line x1="397.45" y1="617.12" x2="397.45" y2="621.96" stroke="#1a1a1a" stroke-width="2.16" stroke-linecap="butt"/>
<line x1="388.79" y1="621.85" x2="406.41" y2="621.85" stroke="#1a1a1a" stroke-width="2.27" stroke-linecap="butt"/>
</svg></body></html>
